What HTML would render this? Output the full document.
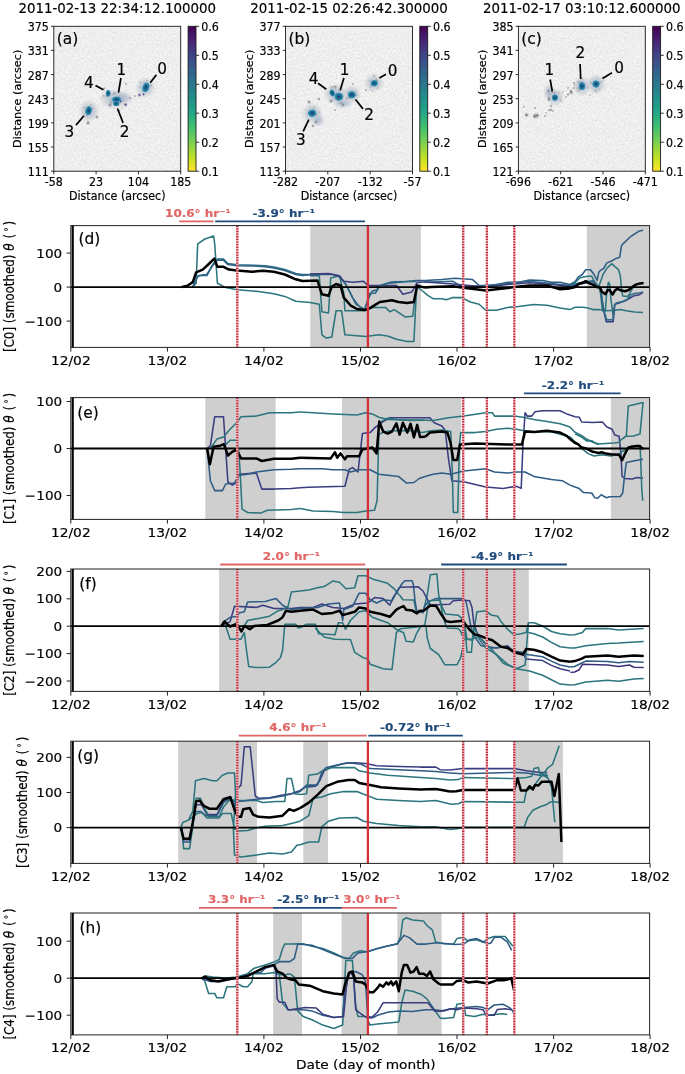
<!DOCTYPE html>
<html><head><meta charset="utf-8"><title>figure</title>
<style>html,body{margin:0;padding:0;background:#fff}svg{display:block}text{font-family:"DejaVu Sans","Liberation Sans",sans-serif;fill:#000;stroke:#000;stroke-width:0.18px}</style></head><body>
<svg width="685" height="1074" viewBox="0 0 685 1074">
<defs><linearGradient id="vir" x1="0" y1="0" x2="0" y2="1">
<stop offset="0.00" stop-color="#440154"/>
<stop offset="0.10" stop-color="#482475"/>
<stop offset="0.20" stop-color="#414487"/>
<stop offset="0.30" stop-color="#355f8d"/>
<stop offset="0.40" stop-color="#2a788e"/>
<stop offset="0.50" stop-color="#21918c"/>
<stop offset="0.60" stop-color="#22a884"/>
<stop offset="0.70" stop-color="#44bf70"/>
<stop offset="0.80" stop-color="#7ad151"/>
<stop offset="0.90" stop-color="#bddf26"/>
<stop offset="1.00" stop-color="#fde725"/>
</linearGradient>
<radialGradient id="halo"><stop offset="0" stop-color="#9fb2cc" stop-opacity="0.85"/><stop offset="0.5" stop-color="#b4bfce" stop-opacity="0.65"/><stop offset="0.8" stop-color="#c8ccd3" stop-opacity="0.35"/><stop offset="1" stop-color="#d4d7db" stop-opacity="0"/></radialGradient>
<radialGradient id="core"><stop offset="0" stop-color="#1b3566"/><stop offset="0.3" stop-color="#1c5d8a"/><stop offset="0.6" stop-color="#1b7f9b"/><stop offset="0.85" stop-color="#3a8fb8" stop-opacity="0.85"/><stop offset="1" stop-color="#7fb0cc" stop-opacity="0"/></radialGradient>
<radialGradient id="gsp"><stop offset="0" stop-color="#55555c" stop-opacity="0.85"/><stop offset="1" stop-color="#a8a8ae" stop-opacity="0"/></radialGradient>
<radialGradient id="psp"><stop offset="0" stop-color="#3b2a78" stop-opacity="0.95"/><stop offset="1" stop-color="#7a70a8" stop-opacity="0"/></radialGradient>
<filter id="nz" color-interpolation-filters="sRGB" x="0" y="0" width="100%" height="100%"><feTurbulence type="fractalNoise" baseFrequency="0.5" numOctaves="2" seed="7" result="t"/><feColorMatrix in="t" type="matrix" values="0.14 0 0 0 0.863  0.14 0 0 0 0.863  0.14 0 0 0 0.863  0 0 0 0 1"/></filter>
</defs>
<rect width="685" height="1074" fill="#fff"/>
<rect x="53.8" y="26.3" width="126.9" height="144.9" fill="#eeeeee" filter="url(#nz)"/>
<ellipse cx="145.5" cy="87.5" rx="10.8" ry="10.8" fill="url(#halo)"/>
<ellipse cx="114" cy="99" rx="15.6" ry="10.8" fill="url(#halo)"/>
<ellipse cx="89" cy="111" rx="10.8" ry="12.0" fill="url(#halo)"/>
<ellipse cx="122" cy="98" rx="12.0" ry="7.2" fill="url(#halo)"/>
<circle cx="140.4" cy="82.4" r="1.6" fill="url(#gsp)" opacity="0.50"/>
<circle cx="151.1" cy="85.2" r="2.0" fill="url(#gsp)" opacity="0.50"/>
<circle cx="147.9" cy="84.9" r="1.2" fill="url(#gsp)" opacity="0.60"/>
<circle cx="145.8" cy="83.1" r="2.0" fill="url(#gsp)" opacity="0.31"/>
<circle cx="142.6" cy="91.4" r="1.3" fill="url(#gsp)" opacity="0.30"/>
<circle cx="139.7" cy="87.1" r="1.4" fill="url(#gsp)" opacity="0.48"/>
<circle cx="149.2" cy="87.0" r="1.4" fill="url(#gsp)" opacity="0.28"/>
<circle cx="143.7" cy="82.9" r="1.6" fill="url(#gsp)" opacity="0.34"/>
<circle cx="147.0" cy="80.7" r="1.6" fill="url(#gsp)" opacity="0.54"/>
<circle cx="117.2" cy="104.2" r="2.3" fill="url(#gsp)" opacity="0.33"/>
<circle cx="118.6" cy="102.0" r="1.9" fill="url(#gsp)" opacity="0.54"/>
<circle cx="121.7" cy="101.2" r="1.6" fill="url(#gsp)" opacity="0.36"/>
<circle cx="117.1" cy="104.4" r="1.2" fill="url(#gsp)" opacity="0.57"/>
<circle cx="118.4" cy="104.9" r="1.9" fill="url(#gsp)" opacity="0.48"/>
<circle cx="111.1" cy="100.4" r="2.3" fill="url(#gsp)" opacity="0.31"/>
<circle cx="118.0" cy="103.8" r="2.0" fill="url(#gsp)" opacity="0.40"/>
<circle cx="114.0" cy="101.7" r="1.2" fill="url(#gsp)" opacity="0.48"/>
<circle cx="117.3" cy="104.8" r="1.3" fill="url(#gsp)" opacity="0.36"/>
<circle cx="118.9" cy="110.6" r="1.9" fill="url(#gsp)" opacity="0.42"/>
<circle cx="117.1" cy="110.7" r="1.8" fill="url(#gsp)" opacity="0.30"/>
<circle cx="119.5" cy="110.6" r="1.5" fill="url(#gsp)" opacity="0.39"/>
<circle cx="122.3" cy="107.8" r="1.3" fill="url(#gsp)" opacity="0.45"/>
<circle cx="115.2" cy="98.0" r="1.5" fill="url(#gsp)" opacity="0.34"/>
<circle cx="114.7" cy="99.6" r="1.9" fill="url(#gsp)" opacity="0.59"/>
<circle cx="121.8" cy="100.6" r="1.8" fill="url(#gsp)" opacity="0.31"/>
<circle cx="119.1" cy="96.6" r="1.5" fill="url(#gsp)" opacity="0.27"/>
<circle cx="111.1" cy="102.6" r="2.2" fill="url(#gsp)" opacity="0.51"/>
<circle cx="103.1" cy="95.7" r="1.7" fill="url(#gsp)" opacity="0.48"/>
<circle cx="104.2" cy="88.5" r="1.3" fill="url(#gsp)" opacity="0.53"/>
<circle cx="112.3" cy="94.7" r="1.8" fill="url(#gsp)" opacity="0.26"/>
<circle cx="104.5" cy="90.5" r="1.5" fill="url(#gsp)" opacity="0.28"/>
<circle cx="103.9" cy="97.3" r="1.1" fill="url(#gsp)" opacity="0.54"/>
<circle cx="113.8" cy="92.7" r="1.8" fill="url(#gsp)" opacity="0.54"/>
<circle cx="104.6" cy="88.1" r="1.7" fill="url(#gsp)" opacity="0.43"/>
<circle cx="105.9" cy="96.0" r="2.1" fill="url(#gsp)" opacity="0.48"/>
<circle cx="115.1" cy="93.5" r="2.4" fill="url(#gsp)" opacity="0.39"/>
<circle cx="92.2" cy="108.7" r="1.9" fill="url(#gsp)" opacity="0.53"/>
<circle cx="84.9" cy="113.2" r="1.2" fill="url(#gsp)" opacity="0.44"/>
<circle cx="86.7" cy="115.7" r="1.9" fill="url(#gsp)" opacity="0.33"/>
<circle cx="85.9" cy="112.5" r="1.9" fill="url(#gsp)" opacity="0.51"/>
<circle cx="87.5" cy="114.6" r="1.9" fill="url(#gsp)" opacity="0.41"/>
<circle cx="91.3" cy="104.5" r="1.6" fill="url(#gsp)" opacity="0.40"/>
<circle cx="83.4" cy="107.8" r="1.7" fill="url(#gsp)" opacity="0.44"/>
<circle cx="84.1" cy="115.4" r="1.7" fill="url(#gsp)" opacity="0.30"/>
<circle cx="85.5" cy="107.3" r="1.5" fill="url(#gsp)" opacity="0.45"/>
<circle cx="125.6" cy="104.8" r="2.4" fill="url(#psp)"/>
<circle cx="139.4" cy="95" r="2.3" fill="url(#psp)"/>
<circle cx="143.5" cy="94.3" r="1.8" fill="url(#psp)"/>
<circle cx="120.5" cy="101.5" r="1.6" fill="url(#psp)"/>
<circle cx="97" cy="117" r="2.2" fill="url(#gsp)"/>
<circle cx="88" cy="123" r="2.5" fill="url(#gsp)"/>
<circle cx="110" cy="105" r="2.5" fill="url(#gsp)"/>
<circle cx="135" cy="96" r="1.5" fill="url(#gsp)"/>
<circle cx="126" cy="84" r="1.5" fill="url(#gsp)"/>
<circle cx="130" cy="98" r="1.5" fill="url(#gsp)"/>
<ellipse cx="145.9" cy="87.4" rx="3.81" ry="5.60" fill="url(#core)" transform="rotate(20 145.9 87.4)"/>
<ellipse cx="116.6" cy="99.5" rx="5.15" ry="3.36" fill="url(#core)" transform="rotate(0 116.6 99.5)"/>
<ellipse cx="116.2" cy="103.6" rx="3.58" ry="2.91" fill="url(#core)" transform="rotate(0 116.2 103.6)"/>
<ellipse cx="108.2" cy="93.3" rx="2.69" ry="3.81" fill="url(#core)" transform="rotate(0 108.2 93.3)"/>
<ellipse cx="88.6" cy="110.7" rx="3.58" ry="5.15" fill="url(#core)" transform="rotate(10 88.6 110.7)"/>
<rect x="53.8" y="26.3" width="126.9" height="144.9" fill="none" stroke="#1a1a1a" stroke-width="0.9"/>
<text transform="translate(117.2 12.6) scale(0.94 1)" font-size="14.26" text-anchor="middle">2011-02-13 22:34:12.100000</text>
<text transform="translate(56.7 43.7) scale(0.967 1)" font-size="16.03">(a)</text>
<line x1="53.8" y1="171.2" x2="53.8" y2="174.39999999999998" stroke="#1a1a1a" stroke-width="0.9"/>
<text transform="translate(53.8 186.0) scale(0.9 1)" font-size="12.29" text-anchor="middle">-58</text>
<line x1="96.1" y1="171.2" x2="96.1" y2="174.39999999999998" stroke="#1a1a1a" stroke-width="0.9"/>
<text transform="translate(96.1 186.0) scale(0.9 1)" font-size="12.29" text-anchor="middle">23</text>
<line x1="138.4" y1="171.2" x2="138.4" y2="174.39999999999998" stroke="#1a1a1a" stroke-width="0.9"/>
<text transform="translate(138.4 186.0) scale(0.9 1)" font-size="12.29" text-anchor="middle">104</text>
<line x1="180.7" y1="171.2" x2="180.7" y2="174.39999999999998" stroke="#1a1a1a" stroke-width="0.9"/>
<text transform="translate(180.7 186.0) scale(0.9 1)" font-size="12.29" text-anchor="middle">185</text>
<line x1="51.0" y1="26.3" x2="53.8" y2="26.3" stroke="#1a1a1a" stroke-width="0.9"/>
<text transform="translate(48.9 31.2) scale(0.9 1)" font-size="12.29" text-anchor="end">375</text>
<line x1="51.0" y1="50.4" x2="53.8" y2="50.4" stroke="#1a1a1a" stroke-width="0.9"/>
<text transform="translate(48.9 55.3) scale(0.9 1)" font-size="12.29" text-anchor="end">331</text>
<line x1="51.0" y1="74.6" x2="53.8" y2="74.6" stroke="#1a1a1a" stroke-width="0.9"/>
<text transform="translate(48.9 79.5) scale(0.9 1)" font-size="12.29" text-anchor="end">287</text>
<line x1="51.0" y1="98.7" x2="53.8" y2="98.7" stroke="#1a1a1a" stroke-width="0.9"/>
<text transform="translate(48.9 103.6) scale(0.9 1)" font-size="12.29" text-anchor="end">243</text>
<line x1="51.0" y1="122.9" x2="53.8" y2="122.9" stroke="#1a1a1a" stroke-width="0.9"/>
<text transform="translate(48.9 127.8) scale(0.9 1)" font-size="12.29" text-anchor="end">199</text>
<line x1="51.0" y1="147.0" x2="53.8" y2="147.0" stroke="#1a1a1a" stroke-width="0.9"/>
<text transform="translate(48.9 151.9) scale(0.9 1)" font-size="12.29" text-anchor="end">155</text>
<line x1="51.0" y1="171.2" x2="53.8" y2="171.2" stroke="#1a1a1a" stroke-width="0.9"/>
<text transform="translate(48.9 176.1) scale(0.9 1)" font-size="12.29" text-anchor="end">111</text>
<text transform="translate(117.2 200) scale(0.94 1)" font-size="11.81" text-anchor="middle">Distance (arcsec)</text>
<text transform="translate(20.9 98.8) rotate(-90)" font-size="11.3" text-anchor="middle">Distance (arcsec)</text>
<rect x="188.1" y="26.3" width="7.9" height="144.9" fill="url(#vir)" stroke="#1a1a1a" stroke-width="0.9"/>
<line x1="196.0" y1="26.3" x2="199.2" y2="26.3" stroke="#1a1a1a" stroke-width="0.9"/>
<text transform="translate(201.3 31.1) scale(0.9 1)" font-size="12.29">0.6</text>
<line x1="196.0" y1="55.3" x2="199.2" y2="55.3" stroke="#1a1a1a" stroke-width="0.9"/>
<text transform="translate(201.3 60.1) scale(0.9 1)" font-size="12.29">0.5</text>
<line x1="196.0" y1="84.3" x2="199.2" y2="84.3" stroke="#1a1a1a" stroke-width="0.9"/>
<text transform="translate(201.3 89.1) scale(0.9 1)" font-size="12.29">0.4</text>
<line x1="196.0" y1="113.2" x2="199.2" y2="113.2" stroke="#1a1a1a" stroke-width="0.9"/>
<text transform="translate(201.3 118.0) scale(0.9 1)" font-size="12.29">0.3</text>
<line x1="196.0" y1="142.2" x2="199.2" y2="142.2" stroke="#1a1a1a" stroke-width="0.9"/>
<text transform="translate(201.3 147.0) scale(0.9 1)" font-size="12.29">0.2</text>
<line x1="196.0" y1="171.2" x2="199.2" y2="171.2" stroke="#1a1a1a" stroke-width="0.9"/>
<text transform="translate(201.3 176.0) scale(0.9 1)" font-size="12.29">0.1</text>
<line x1="156.4" y1="74.9" x2="150.2" y2="82.7" stroke="#000" stroke-width="1.7"/>
<line x1="120.9" y1="78" x2="118.5" y2="92.6" stroke="#000" stroke-width="1.7"/>
<line x1="95.5" y1="85.5" x2="103.5" y2="89.8" stroke="#000" stroke-width="1.7"/>
<line x1="76" y1="125.1" x2="83.9" y2="115.8" stroke="#000" stroke-width="1.7"/>
<line x1="117.5" y1="108.5" x2="123.1" y2="122.9" stroke="#000" stroke-width="1.7"/>
<text x="162" y="74.2" font-size="15.25" text-anchor="middle" fill="#000">0</text>
<text x="121.3" y="75.1" font-size="15.25" text-anchor="middle" fill="#000">1</text>
<text x="88.9" y="87.6" font-size="15.25" text-anchor="middle" fill="#000">4</text>
<text x="69.3" y="137.2" font-size="15.25" text-anchor="middle" fill="#000">3</text>
<text x="124.6" y="137.2" font-size="15.25" text-anchor="middle" fill="#000">2</text>
<rect x="285.5" y="26.3" width="127.0" height="144.9" fill="#eeeeee" filter="url(#nz)"/>
<ellipse cx="374" cy="83" rx="10.8" ry="9.6" fill="url(#halo)"/>
<ellipse cx="352" cy="94" rx="9.6" ry="9.6" fill="url(#halo)"/>
<ellipse cx="336" cy="94" rx="13.2" ry="10.8" fill="url(#halo)"/>
<ellipse cx="312" cy="113" rx="10.8" ry="10.8" fill="url(#halo)"/>
<ellipse cx="318" cy="120" rx="7.2" ry="7.2" fill="url(#halo)"/>
<ellipse cx="343" cy="103" rx="10.8" ry="6.0" fill="url(#halo)"/>
<circle cx="369.9" cy="80.9" r="1.8" fill="url(#gsp)" opacity="0.28"/>
<circle cx="370.0" cy="89.3" r="1.1" fill="url(#gsp)" opacity="0.42"/>
<circle cx="378.0" cy="88.1" r="1.9" fill="url(#gsp)" opacity="0.35"/>
<circle cx="376.8" cy="80.8" r="2.0" fill="url(#gsp)" opacity="0.44"/>
<circle cx="374.3" cy="75.7" r="2.1" fill="url(#gsp)" opacity="0.52"/>
<circle cx="372.4" cy="91.0" r="1.6" fill="url(#gsp)" opacity="0.51"/>
<circle cx="376.7" cy="80.2" r="2.0" fill="url(#gsp)" opacity="0.53"/>
<circle cx="371.1" cy="86.0" r="1.9" fill="url(#gsp)" opacity="0.41"/>
<circle cx="371.0" cy="87.4" r="1.2" fill="url(#gsp)" opacity="0.37"/>
<circle cx="347.6" cy="94.6" r="1.4" fill="url(#gsp)" opacity="0.31"/>
<circle cx="353.2" cy="100.3" r="1.3" fill="url(#gsp)" opacity="0.27"/>
<circle cx="349.9" cy="98.5" r="1.8" fill="url(#gsp)" opacity="0.34"/>
<circle cx="348.5" cy="98.2" r="1.2" fill="url(#gsp)" opacity="0.47"/>
<circle cx="354.1" cy="98.9" r="1.2" fill="url(#gsp)" opacity="0.35"/>
<circle cx="347.0" cy="98.2" r="2.3" fill="url(#gsp)" opacity="0.58"/>
<circle cx="347.8" cy="91.7" r="2.0" fill="url(#gsp)" opacity="0.29"/>
<circle cx="357.6" cy="95.1" r="1.8" fill="url(#gsp)" opacity="0.35"/>
<circle cx="356.2" cy="91.4" r="1.4" fill="url(#gsp)" opacity="0.45"/>
<circle cx="339.8" cy="103.6" r="1.4" fill="url(#gsp)" opacity="0.49"/>
<circle cx="337.0" cy="94.3" r="1.1" fill="url(#gsp)" opacity="0.40"/>
<circle cx="341.0" cy="102.6" r="1.2" fill="url(#gsp)" opacity="0.45"/>
<circle cx="337.4" cy="93.8" r="1.9" fill="url(#gsp)" opacity="0.40"/>
<circle cx="333.7" cy="99.0" r="1.3" fill="url(#gsp)" opacity="0.40"/>
<circle cx="342.2" cy="95.4" r="1.5" fill="url(#gsp)" opacity="0.42"/>
<circle cx="338.0" cy="100.5" r="2.1" fill="url(#gsp)" opacity="0.33"/>
<circle cx="334.4" cy="94.5" r="1.3" fill="url(#gsp)" opacity="0.38"/>
<circle cx="342.1" cy="103.4" r="2.1" fill="url(#gsp)" opacity="0.56"/>
<circle cx="337.7" cy="98.0" r="1.3" fill="url(#gsp)" opacity="0.50"/>
<circle cx="328.8" cy="93.6" r="1.0" fill="url(#gsp)" opacity="0.34"/>
<circle cx="335.4" cy="88.1" r="1.7" fill="url(#gsp)" opacity="0.49"/>
<circle cx="338.7" cy="90.9" r="2.2" fill="url(#gsp)" opacity="0.37"/>
<circle cx="335.0" cy="99.9" r="2.0" fill="url(#gsp)" opacity="0.28"/>
<circle cx="334.4" cy="86.5" r="1.7" fill="url(#gsp)" opacity="0.56"/>
<circle cx="335.7" cy="86.8" r="2.3" fill="url(#gsp)" opacity="0.48"/>
<circle cx="331.9" cy="87.6" r="2.3" fill="url(#gsp)" opacity="0.56"/>
<circle cx="334.5" cy="86.7" r="1.0" fill="url(#gsp)" opacity="0.60"/>
<circle cx="319.6" cy="112.9" r="2.2" fill="url(#gsp)" opacity="0.32"/>
<circle cx="315.4" cy="114.4" r="1.8" fill="url(#gsp)" opacity="0.36"/>
<circle cx="314.8" cy="107.4" r="1.3" fill="url(#gsp)" opacity="0.56"/>
<circle cx="318.9" cy="111.7" r="1.2" fill="url(#gsp)" opacity="0.26"/>
<circle cx="316.9" cy="114.8" r="1.6" fill="url(#gsp)" opacity="0.45"/>
<circle cx="313.3" cy="109.1" r="2.1" fill="url(#gsp)" opacity="0.28"/>
<circle cx="311.2" cy="116.1" r="1.4" fill="url(#gsp)" opacity="0.48"/>
<circle cx="309.1" cy="113.0" r="2.1" fill="url(#gsp)" opacity="0.54"/>
<circle cx="308.5" cy="113.7" r="1.6" fill="url(#gsp)" opacity="0.54"/>
<circle cx="319" cy="99" r="2" fill="url(#gsp)"/>
<circle cx="309" cy="102" r="2.4" fill="url(#gsp)"/>
<circle cx="316" cy="122" r="2.2" fill="url(#gsp)"/>
<circle cx="313" cy="126" r="2" fill="url(#gsp)"/>
<circle cx="343" cy="105" r="2" fill="url(#gsp)"/>
<circle cx="335" cy="110" r="1.5" fill="url(#gsp)"/>
<circle cx="331" cy="101" r="2.5" fill="url(#gsp)"/>
<circle cx="353" cy="84" r="1.5" fill="url(#gsp)"/>
<circle cx="366" cy="90" r="1.5" fill="url(#gsp)"/>
<ellipse cx="374.2" cy="83.3" rx="4.03" ry="3.58" fill="url(#core)" transform="rotate(0 374.2 83.3)"/>
<ellipse cx="351.8" cy="94.8" rx="4.48" ry="4.03" fill="url(#core)" transform="rotate(0 351.8 94.8)"/>
<ellipse cx="338.9" cy="96.7" rx="4.93" ry="4.48" fill="url(#core)" transform="rotate(0 338.9 96.7)"/>
<ellipse cx="332.2" cy="93" rx="2.91" ry="4.03" fill="url(#core)" transform="rotate(-20 332.2 93)"/>
<ellipse cx="312.2" cy="113.2" rx="4.70" ry="4.03" fill="url(#core)" transform="rotate(0 312.2 113.2)"/>
<rect x="285.5" y="26.3" width="127.0" height="144.9" fill="none" stroke="#1a1a1a" stroke-width="0.9"/>
<text transform="translate(349.0 12.6) scale(0.94 1)" font-size="14.26" text-anchor="middle">2011-02-15 02:26:42.300000</text>
<text transform="translate(288.4 43.7) scale(0.967 1)" font-size="16.03">(b)</text>
<line x1="285.5" y1="171.2" x2="285.5" y2="174.39999999999998" stroke="#1a1a1a" stroke-width="0.9"/>
<text transform="translate(285.5 186.0) scale(0.9 1)" font-size="12.29" text-anchor="middle">-282</text>
<line x1="327.8" y1="171.2" x2="327.8" y2="174.39999999999998" stroke="#1a1a1a" stroke-width="0.9"/>
<text transform="translate(327.8 186.0) scale(0.9 1)" font-size="12.29" text-anchor="middle">-207</text>
<line x1="370.2" y1="171.2" x2="370.2" y2="174.39999999999998" stroke="#1a1a1a" stroke-width="0.9"/>
<text transform="translate(370.2 186.0) scale(0.9 1)" font-size="12.29" text-anchor="middle">-132</text>
<line x1="412.5" y1="171.2" x2="412.5" y2="174.39999999999998" stroke="#1a1a1a" stroke-width="0.9"/>
<text transform="translate(412.5 186.0) scale(0.9 1)" font-size="12.29" text-anchor="middle">-57</text>
<line x1="282.7" y1="26.3" x2="285.5" y2="26.3" stroke="#1a1a1a" stroke-width="0.9"/>
<text transform="translate(280.6 31.2) scale(0.9 1)" font-size="12.29" text-anchor="end">377</text>
<line x1="282.7" y1="50.4" x2="285.5" y2="50.4" stroke="#1a1a1a" stroke-width="0.9"/>
<text transform="translate(280.6 55.3) scale(0.9 1)" font-size="12.29" text-anchor="end">333</text>
<line x1="282.7" y1="74.6" x2="285.5" y2="74.6" stroke="#1a1a1a" stroke-width="0.9"/>
<text transform="translate(280.6 79.5) scale(0.9 1)" font-size="12.29" text-anchor="end">289</text>
<line x1="282.7" y1="98.7" x2="285.5" y2="98.7" stroke="#1a1a1a" stroke-width="0.9"/>
<text transform="translate(280.6 103.6) scale(0.9 1)" font-size="12.29" text-anchor="end">245</text>
<line x1="282.7" y1="122.9" x2="285.5" y2="122.9" stroke="#1a1a1a" stroke-width="0.9"/>
<text transform="translate(280.6 127.8) scale(0.9 1)" font-size="12.29" text-anchor="end">201</text>
<line x1="282.7" y1="147.0" x2="285.5" y2="147.0" stroke="#1a1a1a" stroke-width="0.9"/>
<text transform="translate(280.6 151.9) scale(0.9 1)" font-size="12.29" text-anchor="end">157</text>
<line x1="282.7" y1="171.2" x2="285.5" y2="171.2" stroke="#1a1a1a" stroke-width="0.9"/>
<text transform="translate(280.6 176.1) scale(0.9 1)" font-size="12.29" text-anchor="end">113</text>
<text transform="translate(349.0 200) scale(0.94 1)" font-size="11.81" text-anchor="middle">Distance (arcsec)</text>
<text transform="translate(252.6 98.8) rotate(-90)" font-size="11.3" text-anchor="middle">Distance (arcsec)</text>
<rect x="419.8" y="26.3" width="7.9" height="144.9" fill="url(#vir)" stroke="#1a1a1a" stroke-width="0.9"/>
<line x1="427.7" y1="26.3" x2="430.9" y2="26.3" stroke="#1a1a1a" stroke-width="0.9"/>
<text transform="translate(433.0 31.1) scale(0.9 1)" font-size="12.29">0.6</text>
<line x1="427.7" y1="55.3" x2="430.9" y2="55.3" stroke="#1a1a1a" stroke-width="0.9"/>
<text transform="translate(433.0 60.1) scale(0.9 1)" font-size="12.29">0.5</text>
<line x1="427.7" y1="84.3" x2="430.9" y2="84.3" stroke="#1a1a1a" stroke-width="0.9"/>
<text transform="translate(433.0 89.1) scale(0.9 1)" font-size="12.29">0.4</text>
<line x1="427.7" y1="113.2" x2="430.9" y2="113.2" stroke="#1a1a1a" stroke-width="0.9"/>
<text transform="translate(433.0 118.0) scale(0.9 1)" font-size="12.29">0.3</text>
<line x1="427.7" y1="142.2" x2="430.9" y2="142.2" stroke="#1a1a1a" stroke-width="0.9"/>
<text transform="translate(433.0 147.0) scale(0.9 1)" font-size="12.29">0.2</text>
<line x1="427.7" y1="171.2" x2="430.9" y2="171.2" stroke="#1a1a1a" stroke-width="0.9"/>
<text transform="translate(433.0 176.0) scale(0.9 1)" font-size="12.29">0.1</text>
<line x1="386" y1="74.3" x2="379.4" y2="78" stroke="#000" stroke-width="1.7"/>
<line x1="343.9" y1="78" x2="340.2" y2="90.2" stroke="#000" stroke-width="1.7"/>
<line x1="318.1" y1="83.3" x2="326.2" y2="89.2" stroke="#000" stroke-width="1.7"/>
<line x1="355.5" y1="99.5" x2="363" y2="108.9" stroke="#000" stroke-width="1.7"/>
<line x1="308.8" y1="119.7" x2="303.2" y2="131.3" stroke="#000" stroke-width="1.7"/>
<text x="392.5" y="75.5" font-size="15.25" text-anchor="middle" fill="#000">0</text>
<text x="344.5" y="75.1" font-size="15.25" text-anchor="middle" fill="#000">1</text>
<text x="313.7" y="83.5" font-size="15.25" text-anchor="middle" fill="#000">4</text>
<text x="369.1" y="120.3" font-size="15.25" text-anchor="middle" fill="#000">2</text>
<text x="300.9" y="145.2" font-size="15.25" text-anchor="middle" fill="#000">3</text>
<rect x="518.4" y="26.3" width="126.9" height="144.9" fill="#eeeeee" filter="url(#nz)"/>
<ellipse cx="596" cy="84" rx="10.8" ry="10.8" fill="url(#halo)"/>
<ellipse cx="582" cy="86" rx="9.6" ry="10.8" fill="url(#halo)"/>
<ellipse cx="555" cy="97" rx="9.6" ry="9.6" fill="url(#halo)"/>
<ellipse cx="549" cy="92" rx="6.0" ry="8.4" fill="url(#halo)"/>
<circle cx="602.6" cy="81.3" r="1.7" fill="url(#gsp)" opacity="0.34"/>
<circle cx="595.7" cy="90.9" r="2.3" fill="url(#gsp)" opacity="0.50"/>
<circle cx="598.1" cy="77.3" r="1.0" fill="url(#gsp)" opacity="0.41"/>
<circle cx="600.5" cy="82.4" r="1.2" fill="url(#gsp)" opacity="0.32"/>
<circle cx="590.9" cy="82.8" r="2.1" fill="url(#gsp)" opacity="0.47"/>
<circle cx="599.6" cy="83.4" r="1.3" fill="url(#gsp)" opacity="0.42"/>
<circle cx="599.5" cy="89.6" r="2.2" fill="url(#gsp)" opacity="0.29"/>
<circle cx="599.5" cy="82.5" r="1.6" fill="url(#gsp)" opacity="0.44"/>
<circle cx="597.7" cy="87.9" r="1.3" fill="url(#gsp)" opacity="0.55"/>
<circle cx="587.7" cy="87.7" r="2.0" fill="url(#gsp)" opacity="0.34"/>
<circle cx="574.4" cy="85.1" r="1.6" fill="url(#gsp)" opacity="0.49"/>
<circle cx="580.9" cy="81.8" r="2.4" fill="url(#gsp)" opacity="0.39"/>
<circle cx="581.6" cy="78.6" r="1.8" fill="url(#gsp)" opacity="0.46"/>
<circle cx="576.5" cy="91.3" r="1.2" fill="url(#gsp)" opacity="0.39"/>
<circle cx="578.4" cy="82.3" r="2.3" fill="url(#gsp)" opacity="0.56"/>
<circle cx="578.8" cy="90.0" r="2.0" fill="url(#gsp)" opacity="0.60"/>
<circle cx="577.5" cy="88.0" r="1.9" fill="url(#gsp)" opacity="0.45"/>
<circle cx="582.8" cy="79.4" r="1.3" fill="url(#gsp)" opacity="0.34"/>
<circle cx="561.0" cy="101.1" r="2.3" fill="url(#gsp)" opacity="0.29"/>
<circle cx="561.0" cy="100.8" r="1.3" fill="url(#gsp)" opacity="0.27"/>
<circle cx="560.2" cy="99.2" r="1.5" fill="url(#gsp)" opacity="0.39"/>
<circle cx="552.2" cy="92.5" r="1.8" fill="url(#gsp)" opacity="0.44"/>
<circle cx="554.6" cy="92.7" r="1.8" fill="url(#gsp)" opacity="0.56"/>
<circle cx="558.7" cy="92.4" r="2.0" fill="url(#gsp)" opacity="0.32"/>
<circle cx="548.9" cy="98.2" r="2.1" fill="url(#gsp)" opacity="0.59"/>
<circle cx="549.6" cy="94.5" r="1.2" fill="url(#gsp)" opacity="0.38"/>
<circle cx="549.2" cy="96.9" r="1.3" fill="url(#gsp)" opacity="0.49"/>
<circle cx="535.8" cy="115.8" r="3.6" fill="url(#gsp)"/>
<circle cx="534.5" cy="116.3" r="2.4" fill="url(#gsp)"/>
<circle cx="537.5" cy="115.4" r="2.2" fill="url(#gsp)"/>
<circle cx="526.5" cy="115" r="2.8" fill="url(#gsp)"/>
<circle cx="526.5" cy="115" r="1.6" fill="url(#gsp)"/>
<circle cx="571.3" cy="92.6" r="2.5" fill="url(#gsp)"/>
<circle cx="548.9" cy="99.5" r="2.2" fill="url(#gsp)"/>
<circle cx="571" cy="91" r="2.2" fill="url(#gsp)"/>
<circle cx="568" cy="94.5" r="1.8" fill="url(#gsp)"/>
<circle cx="574" cy="88" r="1.6" fill="url(#gsp)"/>
<circle cx="566" cy="97" r="1.4" fill="url(#gsp)"/>
<circle cx="563" cy="92" r="1.2" fill="url(#gsp)"/>
<circle cx="551" cy="106" r="1.8" fill="url(#gsp)"/>
<circle cx="549" cy="110" r="1.6" fill="url(#gsp)"/>
<circle cx="553" cy="111" r="1.3" fill="url(#gsp)"/>
<circle cx="546" cy="113" r="1.2" fill="url(#gsp)"/>
<circle cx="548.5" cy="91" r="2.0" fill="url(#gsp)"/>
<circle cx="535" cy="108" r="1.5" fill="url(#gsp)"/>
<circle cx="551" cy="110" r="2" fill="url(#gsp)"/>
<circle cx="545" cy="116" r="1.5" fill="url(#gsp)"/>
<circle cx="568" cy="88" r="1.5" fill="url(#gsp)"/>
<circle cx="574" cy="83" r="1.5" fill="url(#gsp)"/>
<circle cx="524" cy="107" r="1.3" fill="url(#gsp)"/>
<circle cx="590" cy="95" r="1.2" fill="url(#gsp)"/>
<ellipse cx="596" cy="84" rx="4.03" ry="4.03" fill="url(#core)" transform="rotate(0 596 84)"/>
<ellipse cx="582" cy="86.1" rx="3.81" ry="4.48" fill="url(#core)" transform="rotate(0 582 86.1)"/>
<ellipse cx="554.9" cy="97.6" rx="3.58" ry="3.58" fill="url(#core)" transform="rotate(0 554.9 97.6)"/>
<rect x="518.4" y="26.3" width="126.9" height="144.9" fill="none" stroke="#1a1a1a" stroke-width="0.9"/>
<text transform="translate(581.8 12.6) scale(0.94 1)" font-size="14.26" text-anchor="middle">2011-02-17 03:10:12.600000</text>
<text transform="translate(521.3 43.7) scale(0.967 1)" font-size="16.03">(c)</text>
<line x1="518.4" y1="171.2" x2="518.4" y2="174.39999999999998" stroke="#1a1a1a" stroke-width="0.9"/>
<text transform="translate(518.4 186.0) scale(0.9 1)" font-size="12.29" text-anchor="middle">-696</text>
<line x1="560.7" y1="171.2" x2="560.7" y2="174.39999999999998" stroke="#1a1a1a" stroke-width="0.9"/>
<text transform="translate(560.7 186.0) scale(0.9 1)" font-size="12.29" text-anchor="middle">-621</text>
<line x1="603.0" y1="171.2" x2="603.0" y2="174.39999999999998" stroke="#1a1a1a" stroke-width="0.9"/>
<text transform="translate(603.0 186.0) scale(0.9 1)" font-size="12.29" text-anchor="middle">-546</text>
<line x1="645.3" y1="171.2" x2="645.3" y2="174.39999999999998" stroke="#1a1a1a" stroke-width="0.9"/>
<text transform="translate(645.3 186.0) scale(0.9 1)" font-size="12.29" text-anchor="middle">-471</text>
<line x1="515.6" y1="26.3" x2="518.4" y2="26.3" stroke="#1a1a1a" stroke-width="0.9"/>
<text transform="translate(513.5 31.2) scale(0.9 1)" font-size="12.29" text-anchor="end">385</text>
<line x1="515.6" y1="50.4" x2="518.4" y2="50.4" stroke="#1a1a1a" stroke-width="0.9"/>
<text transform="translate(513.5 55.3) scale(0.9 1)" font-size="12.29" text-anchor="end">341</text>
<line x1="515.6" y1="74.6" x2="518.4" y2="74.6" stroke="#1a1a1a" stroke-width="0.9"/>
<text transform="translate(513.5 79.5) scale(0.9 1)" font-size="12.29" text-anchor="end">297</text>
<line x1="515.6" y1="98.7" x2="518.4" y2="98.7" stroke="#1a1a1a" stroke-width="0.9"/>
<text transform="translate(513.5 103.6) scale(0.9 1)" font-size="12.29" text-anchor="end">253</text>
<line x1="515.6" y1="122.9" x2="518.4" y2="122.9" stroke="#1a1a1a" stroke-width="0.9"/>
<text transform="translate(513.5 127.8) scale(0.9 1)" font-size="12.29" text-anchor="end">209</text>
<line x1="515.6" y1="147.0" x2="518.4" y2="147.0" stroke="#1a1a1a" stroke-width="0.9"/>
<text transform="translate(513.5 151.9) scale(0.9 1)" font-size="12.29" text-anchor="end">165</text>
<line x1="515.6" y1="171.2" x2="518.4" y2="171.2" stroke="#1a1a1a" stroke-width="0.9"/>
<text transform="translate(513.5 176.1) scale(0.9 1)" font-size="12.29" text-anchor="end">121</text>
<text transform="translate(581.8 200) scale(0.94 1)" font-size="11.81" text-anchor="middle">Distance (arcsec)</text>
<text transform="translate(485.5 98.8) rotate(-90)" font-size="11.3" text-anchor="middle">Distance (arcsec)</text>
<rect x="652.7" y="26.3" width="7.9" height="144.9" fill="url(#vir)" stroke="#1a1a1a" stroke-width="0.9"/>
<line x1="660.6" y1="26.3" x2="663.8" y2="26.3" stroke="#1a1a1a" stroke-width="0.9"/>
<text transform="translate(665.9 31.1) scale(0.9 1)" font-size="12.29">0.6</text>
<line x1="660.6" y1="55.3" x2="663.8" y2="55.3" stroke="#1a1a1a" stroke-width="0.9"/>
<text transform="translate(665.9 60.1) scale(0.9 1)" font-size="12.29">0.5</text>
<line x1="660.6" y1="84.3" x2="663.8" y2="84.3" stroke="#1a1a1a" stroke-width="0.9"/>
<text transform="translate(665.9 89.1) scale(0.9 1)" font-size="12.29">0.4</text>
<line x1="660.6" y1="113.2" x2="663.8" y2="113.2" stroke="#1a1a1a" stroke-width="0.9"/>
<text transform="translate(665.9 118.0) scale(0.9 1)" font-size="12.29">0.3</text>
<line x1="660.6" y1="142.2" x2="663.8" y2="142.2" stroke="#1a1a1a" stroke-width="0.9"/>
<text transform="translate(665.9 147.0) scale(0.9 1)" font-size="12.29">0.2</text>
<line x1="660.6" y1="171.2" x2="663.8" y2="171.2" stroke="#1a1a1a" stroke-width="0.9"/>
<text transform="translate(665.9 176.0) scale(0.9 1)" font-size="12.29">0.1</text>
<line x1="611.9" y1="72.8" x2="602.5" y2="78.4" stroke="#000" stroke-width="1.7"/>
<line x1="580.1" y1="64" x2="580.7" y2="79" stroke="#000" stroke-width="1.7"/>
<line x1="550.2" y1="79.5" x2="552.3" y2="91.5" stroke="#000" stroke-width="1.7"/>
<text x="619" y="73.3" font-size="15.25" text-anchor="middle" fill="#000">0</text>
<text x="580.3" y="58.3" font-size="15.25" text-anchor="middle" fill="#000">2</text>
<text x="549.3" y="75.1" font-size="15.25" text-anchor="middle" fill="#000">1</text>
<clipPath id="cp0"><rect x="70.8" y="225.6" width="578.8" height="121.8"/></clipPath>
<rect x="310.3" y="225.6" width="110.6" height="121.8" fill="#cfcfcf"/>
<rect x="586.8" y="225.6" width="62.8" height="121.8" fill="#cfcfcf"/>
<g clip-path="url(#cp0)" fill="none" stroke-linejoin="round" stroke-linecap="butt">
<polyline points="192.8,286.9 196.1,283.2 197.7,243.8 204.9,239.0 213.6,236.1 214.7,243.8 217.4,283.2 225.7,287.6 237.1,289.8 258.5,291.5 273.9,293.7 284.8,296.4 295.8,301.2 309.9,302.4" stroke="#2b757c" stroke-width="1.55"/>
<polyline points="192.8,286.9 198.3,275.5 206.0,275.5 212.6,265.7 217.4,260.2 223.5,260.2 227.9,264.6 237.1,265.7 254.2,266.1 265.1,266.8 273.9,267.9 284.8,270.5 295.8,274.5 302.3,275.5 309.9,274.7" stroke="#2e5c84" stroke-width="1.55"/>
<polyline points="192.8,286.9 197.2,276.6 203.8,274.5 207.1,275.5 212.6,264.6 217.4,259.1 223.5,259.1 227.9,263.5 237.1,264.8 254.2,265.3 265.1,265.7 273.9,267.0 284.8,269.6 295.8,273.6 302.3,274.5 310.0,274.4" stroke="#2d6a86" stroke-width="1.55"/>
<polyline points="309.9,302.4 319.3,304.2 321.9,334.8 326.3,338.1 331.8,337.0 336.1,310.7 341.6,310.7 344.9,334.8 365.7,336.6 378.8,334.8 387.6,335.9 396.4,339.2 407.3,341.4 413.9,341.4 416.6,286.6" stroke="#2b757c" stroke-width="1.55"/>
<polyline points="309.9,275.7 319.3,275.7 321.9,311.8 328.5,312.9 330.7,277.9 339.4,275.7 343.8,293.2 344.9,310.7 364.6,310.7 372.3,307.4 385.4,307.4 389.8,311.8 394.2,309.6 405.1,316.9 412.8,316.2 416.3,286.1" stroke="#2b757c" stroke-width="1.55"/>
<polyline points="310.0,274.4 332.8,274.6 339.4,276.8 346.0,284.5 352.6,297.6 359.1,306.4 364.6,309.6 369.0,297.6 372.3,291.0 376.6,289.9 381.0,285.5 387.6,283.4 416.1,280.5 425.1,280.4" stroke="#2e5c84" stroke-width="1.55"/>
<polyline points="309.9,273.9 328.5,273.5 339.4,275.7 343.8,281.2 352.6,282.3 363.5,281.2 367.9,285.5 396.4,285.5 402.9,294.3 411.7,292.1 415.0,286.6 417.2,282.3 425.1,281.9" stroke="#3a3c80" stroke-width="1.55"/>
<polyline points="343.8,281.2 350.4,293.2 355.8,304.2 364.6,309.6 370.1,293.2 375.5,293.2 379.9,285.5 392.0,281.8 416.1,281.4" stroke="#2d6a86" stroke-width="1.55"/>
<polyline points="416.3,286.1 422.6,291.0" stroke="#2b757c" stroke-width="1.55"/>
<polyline points="422.6,291.0 427.7,295.4 433.1,298.7 441.9,298.7 446.3,299.8 452.8,297.6 461.6,297.6 470.4,302.0 479.1,304.2 485.7,310.3 496.6,310.3 507.6,307.4 518.5,306.4 533.9,304.6 547.0,305.3 560.1,308.1 570.0,309.6" stroke="#2b757c" stroke-width="1.55"/>
<polyline points="425.1,280.4 441.9,279.6 455.0,278.3 472.6,279.6 479.1,285.5 492.3,285.5 507.6,282.3 518.5,282.3 529.5,280.1 542.6,280.5 551.4,282.3 560.1,282.3 570.0,284.5" stroke="#2e5c84" stroke-width="1.55"/>
<polyline points="424.4,282.3 452.8,281.2 459.4,285.5 476.9,286.2 507.6,283.4 529.5,281.2 551.4,283.4 570.0,285.5" stroke="#2d6a86" stroke-width="1.55"/>
<polyline points="425.1,281.9 452.8,284.0 485.7,287.1 507.6,284.5 529.5,282.7 551.4,284.5 570.0,286.2" stroke="#3a3c80" stroke-width="1.55"/>
<polyline points="570.0,309.6 575.0,307.2 582.2,307.2 586.9,307.8 592.9,309.6 598.8,309.6 606.0,310.8 615.5,310.2 620.3,309.6 626.3,310.8 634.6,312.0 643.0,312.6" stroke="#2b757c" stroke-width="1.55"/>
<polyline points="570.0,284.5 575.0,281.6 578.6,276.8 582.2,274.5 585.7,269.7 590.5,269.7 594.1,274.5 597.1,280.4 598.8,272.1 600.6,270.3 603.6,268.5 606.6,263.1 612.0,260.7 616.1,258.4 619.7,257.2 621.5,245.8 622.7,244.1 631.0,236.3 639.4,230.9 643.0,230.3" stroke="#2e5c84" stroke-width="1.55"/>
<polyline points="570.0,285.0 575.0,282.8 579.8,278.0 584.5,276.8 588.1,276.2 591.7,276.2 594.1,281.0 596.5,284.0 598.8,286.4 600.6,281.6 603.0,274.5 607.2,267.9 612.0,263.7 614.3,266.1 618.5,269.7 620.3,275.7 621.5,288.8 622.7,295.9 627.5,296.5 629.8,293.5 632.2,288.8 634.6,286.4" stroke="#2b757c" stroke-width="1.55"/>
<polyline points="598.8,286.4 600.6,293.5 602.4,310.8 605.4,310.8 606.6,293.5 608.4,282.2 609.6,284.0 610.8,298.3 613.2,316.2" stroke="#2b757c" stroke-width="1.55"/>
<polyline points="570.0,286.2 575.0,285.2 586.9,282.8 592.9,281.6 596.5,285.2 600.6,288.8 603.6,310.2 606.2,321.6 613.2,321.6 614.9,304.3 619.1,303.1 625.1,300.7 629.8,298.3 633.4,295.9 639.4,294.7 643.0,292.3" stroke="#3a3c80" stroke-width="1.55"/>
<polyline points="570.0,285.5 575.0,284.0 586.9,281.6 592.9,280.7 596.5,284.6 600.6,288.8 603.0,305.5 604.8,313.2 606.6,319.8 612.9,319.8 614.3,305.5 616.1,303.1 622.7,301.6 627.5,299.3 631.0,294.7 634.6,293.5 639.4,292.9 643.0,292.1" stroke="#2d6a86" stroke-width="1.55"/>
<line x1="70.8" y1="287.1" x2="649.6" y2="287.1" stroke="#000" stroke-width="1.8"/>
<polyline points="181.9,286.9 187.4,285.8 192.8,282.1 196.1,272.3 202.7,269.6 209.3,263.5 214.3,258.7 217.4,266.8 223.5,266.8 229.0,269.6 237.1,270.5 252.0,271.8 262.9,270.7 273.9,271.8 284.8,274.5 295.8,279.3 302.3,281.0 309.9,280.8" stroke="#000" stroke-width="2.5"/>
<polyline points="309.9,280.8 317.5,280.5 319.7,287.7 321.9,294.3 328.5,295.8 331.8,286.6 336.1,284.0 340.5,285.5 343.8,297.6 350.4,305.3 356.9,309.0 364.6,310.1 370.1,308.1 375.5,304.6 379.9,302.0 392.0,300.2 398.5,302.0 407.3,303.1 413.9,302.0 417.2,285.5 422.6,287.1 425.1,287.4" stroke="#000" stroke-width="2.5"/>
<polyline points="425.1,287.4 430.9,287.1 452.8,286.2 463.8,287.7 485.7,290.6 501.0,288.8 514.2,287.1 529.5,285.5 547.0,285.5 560.1,289.3 570.0,288.4" stroke="#000" stroke-width="2.5"/>
<polyline points="570.0,288.4 575.0,287.0 578.6,284.0 582.2,282.8 585.7,281.0 588.1,282.8 592.9,284.6 596.5,287.0 600.0,287.6 601.8,291.7 605.4,294.1 607.8,290.0 609.6,290.0 612.6,294.5 614.9,290.6 617.3,288.8 621.5,290.6 625.1,291.2 628.7,290.0 632.2,287.0 635.8,284.6 640.0,283.4 643.6,283.0" stroke="#000" stroke-width="2.5"/>
</g>
<line x1="237.3" y1="225.6" x2="237.3" y2="347.35" stroke="#f4b4bb" stroke-width="2.3"/>
<line x1="237.3" y1="225.6" x2="237.3" y2="347.35" stroke="#bd2a3a" stroke-width="2.3" stroke-dasharray="1.3 1.33"/>
<line x1="463.2" y1="225.6" x2="463.2" y2="347.35" stroke="#f4b4bb" stroke-width="2.3"/>
<line x1="463.2" y1="225.6" x2="463.2" y2="347.35" stroke="#bd2a3a" stroke-width="2.3" stroke-dasharray="1.3 1.33"/>
<line x1="486.9" y1="225.6" x2="486.9" y2="347.35" stroke="#f4b4bb" stroke-width="2.3"/>
<line x1="486.9" y1="225.6" x2="486.9" y2="347.35" stroke="#bd2a3a" stroke-width="2.3" stroke-dasharray="1.3 1.33"/>
<line x1="514.3" y1="225.6" x2="514.3" y2="347.35" stroke="#f4b4bb" stroke-width="2.3"/>
<line x1="514.3" y1="225.6" x2="514.3" y2="347.35" stroke="#bd2a3a" stroke-width="2.3" stroke-dasharray="1.3 1.33"/>
<line x1="367.9" y1="225.6" x2="367.9" y2="347.35" stroke="#d62f3a" stroke-width="2.3"/>
<line x1="72.7" y1="225.6" x2="72.7" y2="347.35" stroke="#000" stroke-width="2.2"/>
<rect x="70.8" y="225.6" width="578.8" height="121.8" fill="none" stroke="#222" stroke-width="1.0"/>
<line x1="70.8" y1="347.35" x2="70.8" y2="351.6" stroke="#222" stroke-width="1.0"/>
<text transform="translate(70.8 364.6) scale(1.07 1)" font-size="12.90" text-anchor="middle">12/02</text>
<line x1="167.4" y1="347.35" x2="167.4" y2="351.6" stroke="#222" stroke-width="1.0"/>
<text transform="translate(167.4 364.6) scale(1.07 1)" font-size="12.90" text-anchor="middle">13/02</text>
<line x1="263.9" y1="347.35" x2="263.9" y2="351.6" stroke="#222" stroke-width="1.0"/>
<text transform="translate(263.9 364.6) scale(1.07 1)" font-size="12.90" text-anchor="middle">14/02</text>
<line x1="360.5" y1="347.35" x2="360.5" y2="351.6" stroke="#222" stroke-width="1.0"/>
<text transform="translate(360.5 364.6) scale(1.07 1)" font-size="12.90" text-anchor="middle">15/02</text>
<line x1="457.0" y1="347.35" x2="457.0" y2="351.6" stroke="#222" stroke-width="1.0"/>
<text transform="translate(457.0 364.6) scale(1.07 1)" font-size="12.90" text-anchor="middle">16/02</text>
<line x1="553.6" y1="347.35" x2="553.6" y2="351.6" stroke="#222" stroke-width="1.0"/>
<text transform="translate(553.6 364.6) scale(1.07 1)" font-size="12.90" text-anchor="middle">17/02</text>
<line x1="650.1" y1="347.35" x2="650.1" y2="351.6" stroke="#222" stroke-width="1.0"/>
<text transform="translate(650.1 364.6) scale(1.07 1)" font-size="12.90" text-anchor="middle">18/02</text>
<line x1="66.6" y1="253.1" x2="70.8" y2="253.1" stroke="#222" stroke-width="1.0"/>
<text transform="translate(62.2 257.7) scale(1.07 1)" font-size="12.71" text-anchor="end">100</text>
<line x1="66.6" y1="287.1" x2="70.8" y2="287.1" stroke="#222" stroke-width="1.0"/>
<text transform="translate(62.2 291.7) scale(1.07 1)" font-size="12.71" text-anchor="end">0</text>
<line x1="66.6" y1="321.1" x2="70.8" y2="321.1" stroke="#222" stroke-width="1.0"/>
<text transform="translate(62.2 325.7) scale(1.07 1)" font-size="12.71" text-anchor="end">−100</text>
<text transform="translate(78.5 243.5) scale(0.98 1)" font-size="15.71">(d)</text>
<text transform="translate(14.1 286.5) rotate(-90) scale(0.895 1)" font-size="13.3" text-anchor="middle">[C0] (smoothed) <tspan font-style="italic">θ</tspan><tspan dx="1.2"> (</tspan><tspan font-size="9.5" dy="-5" dx="1.8">∘</tspan><tspan dy="5" dx="1.7">)</tspan></text>
<line x1="179.3" y1="221.4" x2="213.6" y2="221.4" stroke="#e06666" stroke-width="1.8"/>
<text transform="translate(197.9 217.4) scale(1.07 1)" font-size="11.21" font-weight="bold" text-anchor="middle" style="fill:#e06666;stroke:#e06666">10.6° hr⁻¹</text>
<line x1="215.2" y1="221.4" x2="365.1" y2="221.4" stroke="#1f4a7c" stroke-width="1.8"/>
<text transform="translate(283.7 217.4) scale(1.07 1)" font-size="11.21" font-weight="bold" text-anchor="middle" style="fill:#1f4a7c;stroke:#1f4a7c">-3.9° hr⁻¹</text>
<clipPath id="cp1"><rect x="70.8" y="397.6" width="578.8" height="121.8"/></clipPath>
<rect x="205.3" y="397.6" width="70.3" height="121.8" fill="#cfcfcf"/>
<rect x="342.0" y="397.6" width="119.2" height="121.8" fill="#cfcfcf"/>
<rect x="610.9" y="397.6" width="38.7" height="121.8" fill="#cfcfcf"/>
<g clip-path="url(#cp1)" fill="none" stroke-linejoin="round" stroke-linecap="butt">
<polyline points="207.1,448.5 210.4,445.7 214.7,416.8 223.5,416.8 227.9,481.8 232.3,485.1 236.6,482.9 238.8,474.2 256.4,473.1 261.8,489.1 273.9,489.1 291.4,488.4 300.1,487.8" stroke="#3a3c80" stroke-width="1.55"/>
<polyline points="210.4,448.5 216.9,439.1 223.5,436.9 230.1,429.3 236.6,422.7 241.0,416.8 256.4,416.1 269.5,412.8 291.4,412.8 300.1,411.9" stroke="#2b757c" stroke-width="1.55"/>
<polyline points="223.5,446.8 230.1,440.2 237.1,440.2 238.4,448.5 239.9,467.6 242.1,509.2 247.6,512.5 260.7,513.1 267.3,510.3 291.4,509.6 300.1,508.6" stroke="#2b757c" stroke-width="1.55"/>
<polyline points="207.1,448.5 210.4,480.7 214.7,490.6 222.4,490.6 225.7,484.0 234.5,482.9 238.8,475.3 247.6,474.2 256.4,472.0 273.9,469.8 291.4,469.3 300.1,468.7" stroke="#2e5c84" stroke-width="1.55"/>
<polyline points="300.1,411.9 313.1,412.8 332.8,413.9 356.9,415.0 365.7,412.8 372.3,413.9 378.8,417.2 387.6,419.4 409.5,419.9 425.1,420.0" stroke="#2b757c" stroke-width="1.55"/>
<polyline points="300.1,487.8 308.8,487.3 344.9,486.2 349.3,469.3 352.6,467.6 358.0,472.0 362.4,433.6 370.1,432.6 375.5,427.1 383.2,421.6 389.8,417.7 425.1,417.7" stroke="#3a3c80" stroke-width="1.55"/>
<polyline points="300.1,468.7 321.9,468.7 332.8,469.8 344.9,469.8 350.4,472.0 359.1,469.8 370.1,469.8 378.8,474.2 398.5,476.4 406.2,482.9 413.9,482.5 419.3,478.5 425.1,476.4" stroke="#2e5c84" stroke-width="1.55"/>
<polyline points="300.1,508.6 313.1,510.9 332.8,511.4 343.8,512.5 356.9,512.5 365.7,510.9 374.5,510.3 377.1,500.4 378.8,434.7 383.2,432.1 392.0,430.8 409.5,430.4 422.6,432.6 425.1,432.1" stroke="#2b757c" stroke-width="1.55"/>
<polyline points="377.7,427.7 381.0,421.6 387.6,418.3 396.4,419.4 409.5,420.5 425.5,420.2" stroke="#2b757c" stroke-width="1.55"/>
<polyline points="425.1,417.7 429.9,417.7 434.2,422.7 441.9,426.0 445.2,430.4 448.5,458.8 451.8,480.7 463.8,481.8 485.7,486.9 503.2,488.4 516.4,486.2 521.2,488.4 522.9,445.7 525.1,412.8 527.3,416.1 531.7,416.1 535.0,411.8 542.6,410.7 560.1,410.7 566.7,413.9 570.0,415.0" stroke="#3a3c80" stroke-width="1.55"/>
<polyline points="425.5,420.2 433.1,420.5 448.5,417.7 463.8,416.1 485.7,412.8 492.3,412.8 494.5,416.1 514.2,416.1 522.9,417.2 533.9,419.4 547.0,421.6 560.1,423.8 570.0,427.1" stroke="#2b757c" stroke-width="1.55"/>
<polyline points="425.1,432.1 430.9,430.8 441.9,429.9 450.7,431.5 452.4,476.4 453.3,512.5 457.7,512.5 459.4,445.7 460.7,432.6 474.7,432.6 485.7,431.5 496.6,429.3 507.6,428.2 516.4,429.3 522.9,430.4 533.9,431.7 551.4,431.7 570.0,436.9" stroke="#2b757c" stroke-width="1.55"/>
<polyline points="425.1,476.4 433.1,474.2 441.9,473.1 450.7,474.2 463.8,470.9 485.7,468.7 494.5,472.0 507.6,473.1 516.4,472.0 525.1,472.0 533.9,476.4 551.4,479.6 562.3,480.7 570.0,485.1" stroke="#2e5c84" stroke-width="1.55"/>
<polyline points="570.0,415.0 575.0,416.7 579.2,417.2 581.6,422.0 592.9,422.4 602.4,422.0 606.6,426.8 612.0,429.2 614.9,435.1 619.1,436.3 620.9,453.6 622.1,476.3 625.1,478.6 632.2,478.9 637.0,477.5 643.0,478.1" stroke="#3a3c80" stroke-width="1.55"/>
<polyline points="570.0,427.1 575.0,432.2 581.0,435.1 586.9,439.3 592.9,442.3 598.8,444.1 606.0,443.5 614.3,442.9 619.1,442.3 620.9,439.9 626.3,436.0 628.3,405.9 643.0,402.6 640.0,433.9 633.4,436.0 626.3,436.3" stroke="#2b757c" stroke-width="1.55"/>
<polyline points="570.0,436.9 575.0,441.7 578.6,444.1 582.2,448.8 588.1,453.6 594.1,456.0 602.4,454.8 610.8,456.0 619.1,454.2 622.7,451.2 627.5,449.1" stroke="#2b757c" stroke-width="1.55"/>
<polyline points="575.0,433.9 581.0,436.7 586.9,441.1 591.7,440.7 596.5,443.8 598.8,444.4" stroke="#2b757c" stroke-width="1.55"/>
<polyline points="639.4,445.9 640.3,450.0 641.8,489.4 642.7,500.7" stroke="#2b757c" stroke-width="1.55"/>
<polyline points="570.0,485.1 575.0,487.0 578.6,488.2 583.3,492.4 591.7,493.0 594.7,497.7 597.7,498.3 601.2,494.7 604.2,496.5 606.6,497.7 609.6,496.8 620.3,496.5 622.7,493.0 624.5,476.3 626.3,462.6 634.6,460.8 643.0,459.3" stroke="#2e5c84" stroke-width="1.55"/>
<line x1="70.8" y1="448.5" x2="649.6" y2="448.5" stroke="#000" stroke-width="1.8"/>
<polyline points="207.1,448.5 209.9,464.3 213.6,446.8 220.2,445.7 223.9,444.2 227.9,455.5 232.3,451.8 236.6,449.6 241.0,458.4 256.4,458.4 261.8,461.0 273.9,458.8 291.4,458.8 300.1,457.7" stroke="#000" stroke-width="2.5"/>
<polyline points="300.1,457.7 330.7,458.4 335.0,452.3 337.2,457.7 340.5,453.4 344.9,459.3 347.1,456.2 359.1,456.2 362.4,449.6 372.3,447.4 376.6,453.4 379.3,421.6 383.2,431.5 387.6,433.6 392.0,431.5 396.4,423.4 399.6,434.7 402.9,422.7 407.3,432.6 410.6,423.8 413.9,437.4 417.2,424.9 420.0,436.9 425.1,436.7" stroke="#000" stroke-width="2.5"/>
<polyline points="425.1,436.7 425.5,436.5 429.9,432.6 441.9,431.5 447.4,432.6 450.7,443.5 453.3,459.9 457.2,459.9 459.9,444.6 474.7,443.5 507.6,444.6 521.8,444.6 525.1,431.5 533.9,432.1 547.0,430.8 560.1,432.6 566.7,435.8 570.0,439.1" stroke="#000" stroke-width="2.5"/>
<polyline points="570.0,439.1 575.0,442.9 578.6,444.7 581.0,447.1 586.9,448.8 592.9,451.8 598.8,453.0 601.8,452.2 606.0,453.6 610.8,454.2 619.1,454.8 622.1,460.2 625.1,453.6 628.1,447.7 632.2,446.5 637.0,445.9 640.0,445.9 641.8,448.2 643.6,448.6" stroke="#000" stroke-width="2.5"/>
</g>
<line x1="237.3" y1="397.6" x2="237.3" y2="519.35" stroke="#f4b4bb" stroke-width="2.3"/>
<line x1="237.3" y1="397.6" x2="237.3" y2="519.35" stroke="#bd2a3a" stroke-width="2.3" stroke-dasharray="1.3 1.33"/>
<line x1="463.2" y1="397.6" x2="463.2" y2="519.35" stroke="#f4b4bb" stroke-width="2.3"/>
<line x1="463.2" y1="397.6" x2="463.2" y2="519.35" stroke="#bd2a3a" stroke-width="2.3" stroke-dasharray="1.3 1.33"/>
<line x1="486.9" y1="397.6" x2="486.9" y2="519.35" stroke="#f4b4bb" stroke-width="2.3"/>
<line x1="486.9" y1="397.6" x2="486.9" y2="519.35" stroke="#bd2a3a" stroke-width="2.3" stroke-dasharray="1.3 1.33"/>
<line x1="514.3" y1="397.6" x2="514.3" y2="519.35" stroke="#f4b4bb" stroke-width="2.3"/>
<line x1="514.3" y1="397.6" x2="514.3" y2="519.35" stroke="#bd2a3a" stroke-width="2.3" stroke-dasharray="1.3 1.33"/>
<line x1="367.9" y1="397.6" x2="367.9" y2="519.35" stroke="#d62f3a" stroke-width="2.3"/>
<line x1="72.7" y1="397.6" x2="72.7" y2="519.35" stroke="#000" stroke-width="2.2"/>
<rect x="70.8" y="397.6" width="578.8" height="121.8" fill="none" stroke="#222" stroke-width="1.0"/>
<line x1="70.8" y1="519.35" x2="70.8" y2="523.6" stroke="#222" stroke-width="1.0"/>
<text transform="translate(70.8 536.6) scale(1.07 1)" font-size="12.90" text-anchor="middle">12/02</text>
<line x1="167.4" y1="519.35" x2="167.4" y2="523.6" stroke="#222" stroke-width="1.0"/>
<text transform="translate(167.4 536.6) scale(1.07 1)" font-size="12.90" text-anchor="middle">13/02</text>
<line x1="263.9" y1="519.35" x2="263.9" y2="523.6" stroke="#222" stroke-width="1.0"/>
<text transform="translate(263.9 536.6) scale(1.07 1)" font-size="12.90" text-anchor="middle">14/02</text>
<line x1="360.5" y1="519.35" x2="360.5" y2="523.6" stroke="#222" stroke-width="1.0"/>
<text transform="translate(360.5 536.6) scale(1.07 1)" font-size="12.90" text-anchor="middle">15/02</text>
<line x1="457.0" y1="519.35" x2="457.0" y2="523.6" stroke="#222" stroke-width="1.0"/>
<text transform="translate(457.0 536.6) scale(1.07 1)" font-size="12.90" text-anchor="middle">16/02</text>
<line x1="553.6" y1="519.35" x2="553.6" y2="523.6" stroke="#222" stroke-width="1.0"/>
<text transform="translate(553.6 536.6) scale(1.07 1)" font-size="12.90" text-anchor="middle">17/02</text>
<line x1="650.1" y1="519.35" x2="650.1" y2="523.6" stroke="#222" stroke-width="1.0"/>
<text transform="translate(650.1 536.6) scale(1.07 1)" font-size="12.90" text-anchor="middle">18/02</text>
<line x1="66.6" y1="401.5" x2="70.8" y2="401.5" stroke="#222" stroke-width="1.0"/>
<text transform="translate(62.2 406.1) scale(1.07 1)" font-size="12.71" text-anchor="end">100</text>
<line x1="66.6" y1="448.5" x2="70.8" y2="448.5" stroke="#222" stroke-width="1.0"/>
<text transform="translate(62.2 453.1) scale(1.07 1)" font-size="12.71" text-anchor="end">0</text>
<line x1="66.6" y1="495.5" x2="70.8" y2="495.5" stroke="#222" stroke-width="1.0"/>
<text transform="translate(62.2 500.1) scale(1.07 1)" font-size="12.71" text-anchor="end">−100</text>
<text transform="translate(77.2 417.7) scale(0.98 1)" font-size="15.71">(e)</text>
<text transform="translate(14.1 458.5) rotate(-90) scale(0.895 1)" font-size="13.3" text-anchor="middle">[C1] (smoothed) <tspan font-style="italic">θ</tspan><tspan dx="1.2"> (</tspan><tspan font-size="9.5" dy="-5" dx="1.8">∘</tspan><tspan dy="5" dx="1.7">)</tspan></text>
<line x1="523.9" y1="393.4" x2="620.7" y2="393.4" stroke="#1f4a7c" stroke-width="1.8"/>
<text transform="translate(573.0 388.7) scale(1.07 1)" font-size="11.21" font-weight="bold" text-anchor="middle" style="fill:#1f4a7c;stroke:#1f4a7c">-2.2° hr⁻¹</text>
<clipPath id="cp2"><rect x="70.8" y="569.0" width="578.8" height="122.4"/></clipPath>
<rect x="219.1" y="569.0" width="309.7" height="122.4" fill="#cfcfcf"/>
<g clip-path="url(#cp2)" fill="none" stroke-linejoin="round" stroke-linecap="butt">
<polyline points="221.3,626.0 230.1,621.6 234.5,606.3 256.4,607.4 262.9,605.2 273.9,608.5 291.4,608.5 300.1,607.4" stroke="#3a3c80" stroke-width="1.55"/>
<polyline points="222.4,622.7 230.1,617.3 237.7,616.2 238.8,612.9 244.3,611.8 247.6,601.9 265.1,601.5 276.1,598.6 282.6,605.2 291.4,609.6 300.1,608.5" stroke="#2e5c84" stroke-width="1.55"/>
<polyline points="225.7,626.0 230.1,639.2 241.0,639.2 244.3,632.6 246.5,650.1 248.7,666.5 256.4,667.6 269.5,667.2 275.0,663.2 280.4,657.8 282.6,650.1 284.8,624.3 295.8,624.3 298.0,627.8 300.1,627.8" stroke="#2b757c" stroke-width="1.55"/>
<polyline points="244.3,626.0 247.6,620.5 258.5,618.4 269.5,616.2 278.2,610.7 282.6,609.6 288.1,606.3 291.4,592.1 300.1,591.0" stroke="#2b757c" stroke-width="1.55"/>
<polyline points="300.1,591.0 308.8,589.9 317.5,587.7 324.1,586.6 332.8,581.1 339.4,582.2 346.0,588.8 354.7,587.7 358.0,575.7 365.7,575.7 372.3,578.9 387.6,583.3 394.2,588.8 398.5,594.3 400.0,595.5" stroke="#2b757c" stroke-width="1.55"/>
<polyline points="300.1,607.4 313.1,607.4 321.9,604.1 332.8,607.4 343.8,608.5 354.7,604.1 367.9,603.0 374.5,597.6 383.2,598.6 389.8,605.2 393.1,597.6 399.6,587.7 400.0,587.2" stroke="#3a3c80" stroke-width="1.55"/>
<polyline points="300.1,608.5 317.5,607.4 328.5,604.1 339.4,603.0 342.7,620.5 343.8,609.6 352.6,606.3 359.1,593.2 365.7,593.2 370.1,599.7 376.6,603.0 383.2,599.7 392.0,600.8 398.5,588.8 400.0,586.8" stroke="#2e5c84" stroke-width="1.55"/>
<polyline points="300.1,627.8 306.6,624.3 315.3,624.3 318.6,633.7 335.0,634.8 338.3,622.7 342.7,622.7 345.5,629.3 350.4,620.5 359.1,611.8 365.7,610.7 372.3,617.3 387.6,622.7 396.4,629.3 400.0,631.0" stroke="#2b757c" stroke-width="1.55"/>
<polyline points="315.3,628.2 324.1,637.0 335.0,639.2 350.4,639.6 354.7,652.3 363.5,657.8 367.9,658.9 370.1,664.3 383.2,668.7 392.0,669.4 396.4,632.6 400.0,628.7" stroke="#2b757c" stroke-width="1.55"/>
<polyline points="400.0,595.5 402.9,599.7 413.8,600.1 416.3,611.6 423.0,612.8 424.8,604.9 427.2,595.3 430.3,574.7 436.9,574.1 438.7,595.3 441.8,606.1 445.4,614.0 458.1,615.2 461.7,618.3 464.9,626.0 467.0,639.2 472.5,640.3 476.9,611.8 480.0,611.5" stroke="#2b757c" stroke-width="1.55"/>
<polyline points="400.0,586.8 402.4,583.2 404.8,580.7 412.1,580.7 413.3,584.4 415.1,601.3 416.9,611.6 423.0,612.2 424.8,606.1 428.1,601.9 435.7,598.6 462.7,598.6 466.0,601.3 468.4,613.4 470.8,626.0 472.5,633.6 480.0,644.4" stroke="#2e5c84" stroke-width="1.55"/>
<polyline points="400.0,587.2 418.2,586.8 423.0,591.0 427.8,600.1 430.3,604.9 449.6,604.3 453.3,600.7 461.7,600.1 469.6,600.7 472.0,607.4 473.8,623.1 476.9,632.5 480.0,637.6" stroke="#3a3c80" stroke-width="1.55"/>
<polyline points="400.0,631.0 403.6,632.8 406.1,641.2 413.3,641.9 416.9,632.8 420.6,626.7 424.8,624.9 427.2,611.0 429.3,600.7 439.9,599.9 442.4,613.4 445.4,624.3 447.2,627.9 458.1,628.5 460.5,631.0 463.8,639.2 470.3,639.2 479.2,637.0 480.0,637.8" stroke="#2b757c" stroke-width="1.55"/>
<polyline points="400.0,628.7 426.0,626.1 427.2,637.6 430.3,648.5 438.7,654.6 444.8,664.8 456.9,664.8 460.5,658.2 462.9,647.3 464.9,626.0 467.0,652.3 471.4,652.3 473.6,626.0 479.2,639.2 480.0,640.4" stroke="#2b757c" stroke-width="1.55"/>
<polyline points="480.0,611.5 485.7,610.7 491.2,615.1 497.7,616.2 501.0,621.6 507.6,629.3 514.2,634.8 520.7,633.7 526.2,632.6 528.4,622.7 533.9,622.7 542.6,626.0 551.4,631.5 560.1,633.7 570.2,635.0" stroke="#2b757c" stroke-width="1.55"/>
<polyline points="480.0,637.6 483.5,641.4 487.9,646.8 496.6,647.9 507.6,645.7 514.2,652.3 522.9,653.4 526.2,658.9 542.6,660.6 551.4,665.4 560.1,668.7 570.0,670.9" stroke="#3a3c80" stroke-width="1.55"/>
<polyline points="480.0,644.4 481.3,645.7 492.3,647.9 507.6,646.8 514.2,651.2 522.9,652.3 527.3,654.5 542.6,656.7 551.4,661.1 560.1,665.0 570.2,666.9" stroke="#2e5c84" stroke-width="1.55"/>
<polyline points="480.0,640.4 485.7,647.9 496.6,654.5 507.6,664.3 516.4,668.7 525.1,665.0 528.4,623.8" stroke="#2b757c" stroke-width="1.55"/>
<polyline points="480.0,637.8 492.3,650.1 503.2,663.2 516.4,668.7 529.5,670.9 542.6,675.3 551.4,679.7 560.1,684.1 570.2,685.1" stroke="#2b757c" stroke-width="1.55"/>
<polyline points="528.4,632.6 533.9,633.7 542.6,637.0 551.4,642.4 560.1,646.8 570.2,648.1" stroke="#2b757c" stroke-width="1.55"/>
<polyline points="570.2,635.0 574.7,634.8 582.4,632.6 585.7,628.6 607.6,628.6 618.5,630.0 643.7,628.6" stroke="#2b757c" stroke-width="1.55"/>
<polyline points="570.2,648.1 574.7,647.9 585.7,645.7 607.6,643.5 618.5,643.1 643.7,641.4" stroke="#2b757c" stroke-width="1.55"/>
<polyline points="570.2,666.9 574.7,666.5 581.3,663.2 585.7,661.1 607.6,661.5 618.5,662.8 629.5,661.5 643.7,662.2" stroke="#2e5c84" stroke-width="1.55"/>
<polyline points="570.4,672.4 574.7,672.0 579.1,669.8 582.4,664.3 607.6,665.0 618.5,666.5 629.5,665.0 633.9,667.2 643.7,667.6" stroke="#432f78" stroke-width="1.55"/>
<polyline points="570.2,685.1 574.7,684.7 585.7,681.9 607.6,680.3 618.5,681.2 633.9,679.0 643.7,678.6" stroke="#2b757c" stroke-width="1.55"/>
<line x1="70.8" y1="626.2" x2="649.6" y2="626.2" stroke="#000" stroke-width="1.8"/>
<polyline points="221.3,626.0 224.6,621.6 230.1,626.5 236.6,623.8 241.5,631.5 244.3,626.0 249.8,629.3 254.2,626.0 267.3,624.9 278.2,620.5 282.6,617.3 285.9,610.7 291.4,611.8 300.1,610.7" stroke="#000" stroke-width="2.5"/>
<polyline points="300.1,610.7 313.1,609.6 321.9,614.0 332.8,612.9 339.4,610.7 342.7,615.1 354.7,611.8 359.1,607.4 365.7,608.5 370.1,611.8 381.0,614.0 389.8,616.8 396.4,609.6 400.0,607.7" stroke="#000" stroke-width="2.5"/>
<polyline points="400.0,607.7 403.6,606.1 406.1,609.8 412.1,610.4 416.9,613.4 419.4,611.0 424.2,610.4 430.3,605.5 436.3,606.1 439.9,612.2 446.0,621.3 450.8,621.9 462.9,620.7 465.4,624.3 470.2,630.4 475.0,634.6 480.0,635.7" stroke="#000" stroke-width="2.5"/>
<polyline points="480.0,635.7 485.7,638.1 492.3,640.3 501.0,646.8 507.6,647.9 514.2,652.3 522.9,654.5 526.2,649.0 533.9,649.7 542.6,652.3 551.4,656.7 560.1,660.6 570.2,661.8" stroke="#000" stroke-width="2.5"/>
<polyline points="570.2,661.8 574.7,661.1 581.3,658.9 585.7,656.7 607.6,655.6 618.5,656.7 633.9,655.6 643.7,656.0" stroke="#000" stroke-width="2.5"/>
</g>
<line x1="237.3" y1="569.0" x2="237.3" y2="691.4" stroke="#f4b4bb" stroke-width="2.3"/>
<line x1="237.3" y1="569.0" x2="237.3" y2="691.4" stroke="#bd2a3a" stroke-width="2.3" stroke-dasharray="1.3 1.33"/>
<line x1="463.2" y1="569.0" x2="463.2" y2="691.4" stroke="#f4b4bb" stroke-width="2.3"/>
<line x1="463.2" y1="569.0" x2="463.2" y2="691.4" stroke="#bd2a3a" stroke-width="2.3" stroke-dasharray="1.3 1.33"/>
<line x1="486.9" y1="569.0" x2="486.9" y2="691.4" stroke="#f4b4bb" stroke-width="2.3"/>
<line x1="486.9" y1="569.0" x2="486.9" y2="691.4" stroke="#bd2a3a" stroke-width="2.3" stroke-dasharray="1.3 1.33"/>
<line x1="514.3" y1="569.0" x2="514.3" y2="691.4" stroke="#f4b4bb" stroke-width="2.3"/>
<line x1="514.3" y1="569.0" x2="514.3" y2="691.4" stroke="#bd2a3a" stroke-width="2.3" stroke-dasharray="1.3 1.33"/>
<line x1="367.9" y1="569.0" x2="367.9" y2="691.4" stroke="#d62f3a" stroke-width="2.3"/>
<line x1="72.7" y1="569.0" x2="72.7" y2="691.4" stroke="#000" stroke-width="2.2"/>
<rect x="70.8" y="569.0" width="578.8" height="122.4" fill="none" stroke="#222" stroke-width="1.0"/>
<line x1="70.8" y1="691.4" x2="70.8" y2="695.6" stroke="#222" stroke-width="1.0"/>
<text transform="translate(70.8 708.6) scale(1.07 1)" font-size="12.90" text-anchor="middle">12/02</text>
<line x1="167.4" y1="691.4" x2="167.4" y2="695.6" stroke="#222" stroke-width="1.0"/>
<text transform="translate(167.4 708.6) scale(1.07 1)" font-size="12.90" text-anchor="middle">13/02</text>
<line x1="263.9" y1="691.4" x2="263.9" y2="695.6" stroke="#222" stroke-width="1.0"/>
<text transform="translate(263.9 708.6) scale(1.07 1)" font-size="12.90" text-anchor="middle">14/02</text>
<line x1="360.5" y1="691.4" x2="360.5" y2="695.6" stroke="#222" stroke-width="1.0"/>
<text transform="translate(360.5 708.6) scale(1.07 1)" font-size="12.90" text-anchor="middle">15/02</text>
<line x1="457.0" y1="691.4" x2="457.0" y2="695.6" stroke="#222" stroke-width="1.0"/>
<text transform="translate(457.0 708.6) scale(1.07 1)" font-size="12.90" text-anchor="middle">16/02</text>
<line x1="553.6" y1="691.4" x2="553.6" y2="695.6" stroke="#222" stroke-width="1.0"/>
<text transform="translate(553.6 708.6) scale(1.07 1)" font-size="12.90" text-anchor="middle">17/02</text>
<line x1="650.1" y1="691.4" x2="650.1" y2="695.6" stroke="#222" stroke-width="1.0"/>
<text transform="translate(650.1 708.6) scale(1.07 1)" font-size="12.90" text-anchor="middle">18/02</text>
<line x1="66.6" y1="571.4" x2="70.8" y2="571.4" stroke="#222" stroke-width="1.0"/>
<text transform="translate(62.2 576.0) scale(1.07 1)" font-size="12.71" text-anchor="end">200</text>
<line x1="66.6" y1="598.8" x2="70.8" y2="598.8" stroke="#222" stroke-width="1.0"/>
<text transform="translate(62.2 603.4) scale(1.07 1)" font-size="12.71" text-anchor="end">100</text>
<line x1="66.6" y1="626.2" x2="70.8" y2="626.2" stroke="#222" stroke-width="1.0"/>
<text transform="translate(62.2 630.8) scale(1.07 1)" font-size="12.71" text-anchor="end">0</text>
<line x1="66.6" y1="653.6" x2="70.8" y2="653.6" stroke="#222" stroke-width="1.0"/>
<text transform="translate(62.2 658.2) scale(1.07 1)" font-size="12.71" text-anchor="end">−100</text>
<line x1="66.6" y1="681.0" x2="70.8" y2="681.0" stroke="#222" stroke-width="1.0"/>
<text transform="translate(62.2 685.6) scale(1.07 1)" font-size="12.71" text-anchor="end">−200</text>
<text transform="translate(79.3 588.7) scale(0.98 1)" font-size="15.71">(f)</text>
<text transform="translate(14.1 630.2) rotate(-90) scale(0.895 1)" font-size="13.3" text-anchor="middle">[C2] (smoothed) <tspan font-style="italic">θ</tspan><tspan dx="1.2"> (</tspan><tspan font-size="9.5" dy="-5" dx="1.8">∘</tspan><tspan dy="5" dx="1.7">)</tspan></text>
<line x1="220.2" y1="564.5" x2="365.2" y2="564.5" stroke="#e06666" stroke-width="1.8"/>
<text transform="translate(291.4 559.9) scale(1.07 1)" font-size="11.21" font-weight="bold" text-anchor="middle" style="fill:#e06666;stroke:#e06666">2.0° hr⁻¹</text>
<line x1="441.2" y1="564.5" x2="566.9" y2="564.5" stroke="#1f4a7c" stroke-width="1.8"/>
<text transform="translate(502.2 559.9) scale(1.07 1)" font-size="11.21" font-weight="bold" text-anchor="middle" style="fill:#1f4a7c;stroke:#1f4a7c">-4.9° hr⁻¹</text>
<clipPath id="cp3"><rect x="70.8" y="741.2" width="578.8" height="122.2"/></clipPath>
<rect x="178.2" y="741.2" width="78.8" height="122.2" fill="#cfcfcf"/>
<rect x="303.3" y="741.2" width="24.7" height="122.2" fill="#cfcfcf"/>
<rect x="514.3" y="741.2" width="48.6" height="122.2" fill="#cfcfcf"/>
<g clip-path="url(#cp3)" fill="none" stroke-linejoin="round" stroke-linecap="butt">
<polyline points="180.8,827.3 183.6,839.8 189.6,839.8 192.8,824.5 196.1,804.8 201.6,804.8 207.1,814.6 216.9,814.6 223.5,801.5 231.2,797.1 234.5,811.4 236.6,789.5 241.0,785.1 244.3,746.8 250.2,746.8 255.3,796.0 258.5,798.2 269.5,797.8 282.6,794.9 291.4,793.8 300.1,790.5" stroke="#3a3c80" stroke-width="1.55"/>
<polyline points="180.8,827.3 183.0,822.3 188.5,820.1 192.8,811.4 195.5,780.7 203.8,778.5 212.6,780.7 216.9,780.7 222.4,775.2 227.9,773.0 234.5,773.0 235.5,793.8 233.4,828.9 234.5,855.1 241.0,856.9 256.4,855.1 269.5,853.0 282.6,854.1 291.4,851.9 296.9,845.3 300.1,844.7" stroke="#2b757c" stroke-width="1.55"/>
<polyline points="181.9,827.3 183.6,848.6 189.6,848.6 192.8,826.7 196.1,798.2 200.5,798.2 203.8,807.0 209.3,816.8 219.1,816.8 223.5,807.0 230.1,799.3 234.5,800.4 256.4,800.4 262.9,802.6 276.1,801.5 284.8,801.5 287.0,778.5 291.4,778.5 294.7,793.8 300.1,794.4" stroke="#2b757c" stroke-width="1.55"/>
<polyline points="180.8,827.3 183.6,842.0 189.6,842.0 192.8,822.3 196.1,811.4 200.5,811.4 206.0,815.7 216.9,815.7 223.5,802.6 230.1,798.2 233.4,801.5 238.8,801.5 256.4,799.3 269.5,798.2 282.6,796.0 295.8,792.7 300.1,791.6" stroke="#2e5c84" stroke-width="1.55"/>
<polyline points="188.5,820.1 197.2,813.5 201.6,812.4 207.1,817.9 219.1,817.9 222.4,813.5 231.2,813.5 234.5,828.9 238.8,831.1 247.6,830.6 256.4,827.8 265.1,826.2 282.6,825.6 291.4,823.4 300.1,821.2" stroke="#2b757c" stroke-width="1.55"/>
<polyline points="300.1,790.5 304.4,787.3 315.3,786.2 319.7,780.7 324.1,770.8 332.8,766.5 343.8,763.6 354.7,762.7 365.7,763.6 376.6,765.8 398.5,766.5 420.4,767.1 435.8,767.1 440.1,769.7 449.9,770.0" stroke="#3a3c80" stroke-width="1.55"/>
<polyline points="300.1,791.6 306.6,785.1 317.5,785.1 321.9,771.9 326.3,767.6 335.0,765.4 348.2,762.7 361.3,764.3 370.1,768.6 398.5,769.7 420.4,770.8 435.8,771.5 449.9,773.1" stroke="#2e5c84" stroke-width="1.55"/>
<polyline points="300.1,794.4 306.6,793.8 308.8,775.2 317.5,774.1 324.1,769.7 332.8,767.6 354.7,767.6 359.1,770.8 370.1,773.0 387.6,775.2 409.5,776.8 435.8,778.5 449.9,779.9" stroke="#2b757c" stroke-width="1.55"/>
<polyline points="300.1,821.2 308.8,815.7 313.1,798.2 321.9,797.1 330.7,793.8 343.8,791.6 356.9,791.6 365.7,794.9 376.6,799.3 398.5,800.4 420.4,801.5 435.8,800.4 449.9,804.0" stroke="#2b757c" stroke-width="1.55"/>
<polyline points="300.1,844.7 308.8,842.0 318.6,842.0 321.9,826.7 328.5,821.2 339.4,817.9 356.9,817.5 363.5,821.2 376.6,823.4 398.5,825.6 420.4,826.7 435.8,826.7 449.9,829.4" stroke="#2b757c" stroke-width="1.55"/>
<polyline points="449.9,770.0 462.8,768.6 484.7,768.6 514.3,768.6 526.4,770.8 539.5,772.4 547.2,772.4" stroke="#3a3c80" stroke-width="1.55"/>
<polyline points="449.9,773.1 462.8,773.7 514.3,772.4 526.4,773.0 539.5,775.2 548.2,775.9" stroke="#2e5c84" stroke-width="1.55"/>
<polyline points="449.9,779.9 458.5,779.6 462.8,777.4 484.7,778.1 514.3,778.5 526.4,777.4 531.8,776.3 534.0,768.6 538.4,767.6 540.6,776.3 547.2,774.1" stroke="#2b757c" stroke-width="1.55"/>
<polyline points="449.9,804.0 451.9,804.3 458.5,803.7 462.8,801.5 514.3,802.2 524.2,802.2 526.4,790.5 532.9,787.3 539.5,778.5 548.2,767.6 552.6,764.3 559.2,745.7" stroke="#2b757c" stroke-width="1.55"/>
<polyline points="449.9,829.4 458.5,828.4 462.8,827.3 524.2,827.3 527.4,817.9 532.9,810.3 539.5,807.0 546.1,804.8 549.3,802.6 552.6,801.5 559.2,802.6" stroke="#2b757c" stroke-width="1.55"/>
<polyline points="539.5,772.4 548.2,778.5 551.5,787.3 554.8,822.3" stroke="#2b757c" stroke-width="1.55"/>
<line x1="70.8" y1="827.6" x2="649.6" y2="827.6" stroke="#000" stroke-width="1.8"/>
<polyline points="180.8,827.3 183.6,838.7 189.6,838.7 192.8,822.3 196.1,801.5 199.4,800.4 203.8,805.9 209.3,808.7 216.9,808.7 223.5,799.3 230.1,797.1 234.5,809.2 237.7,816.8 241.0,816.8 243.2,809.2 249.8,808.1 253.1,814.6 258.5,816.8 269.5,817.5 282.6,815.7 289.2,809.2 293.6,810.9 300.1,808.1" stroke="#000" stroke-width="2.5"/>
<polyline points="300.1,808.1 308.8,802.6 317.5,794.9 326.3,786.2 337.2,781.8 348.2,780.0 354.7,780.0 359.1,782.9 370.1,785.1 381.0,787.3 398.5,788.4 420.4,789.5 435.8,789.0 444.5,790.5 449.9,791.5" stroke="#000" stroke-width="2.5"/>
<polyline points="449.9,791.5 456.3,791.2 462.8,789.9 514.3,789.9 517.6,778.5 520.9,790.5 526.4,790.5 529.6,786.2 532.9,789.5 535.1,785.1 538.4,785.5 541.7,781.8 551.5,781.8 554.4,796.0 558.8,774.1 561.4,842.0" stroke="#000" stroke-width="2.5"/>
</g>
<line x1="237.3" y1="741.2" x2="237.3" y2="863.4" stroke="#f4b4bb" stroke-width="2.3"/>
<line x1="237.3" y1="741.2" x2="237.3" y2="863.4" stroke="#bd2a3a" stroke-width="2.3" stroke-dasharray="1.3 1.33"/>
<line x1="463.2" y1="741.2" x2="463.2" y2="863.4" stroke="#f4b4bb" stroke-width="2.3"/>
<line x1="463.2" y1="741.2" x2="463.2" y2="863.4" stroke="#bd2a3a" stroke-width="2.3" stroke-dasharray="1.3 1.33"/>
<line x1="486.9" y1="741.2" x2="486.9" y2="863.4" stroke="#f4b4bb" stroke-width="2.3"/>
<line x1="486.9" y1="741.2" x2="486.9" y2="863.4" stroke="#bd2a3a" stroke-width="2.3" stroke-dasharray="1.3 1.33"/>
<line x1="514.3" y1="741.2" x2="514.3" y2="863.4" stroke="#f4b4bb" stroke-width="2.3"/>
<line x1="514.3" y1="741.2" x2="514.3" y2="863.4" stroke="#bd2a3a" stroke-width="2.3" stroke-dasharray="1.3 1.33"/>
<line x1="367.9" y1="741.2" x2="367.9" y2="863.4" stroke="#d62f3a" stroke-width="2.3"/>
<line x1="72.7" y1="741.2" x2="72.7" y2="863.4" stroke="#000" stroke-width="2.2"/>
<rect x="70.8" y="741.2" width="578.8" height="122.2" fill="none" stroke="#222" stroke-width="1.0"/>
<line x1="70.8" y1="863.4" x2="70.8" y2="867.6" stroke="#222" stroke-width="1.0"/>
<text transform="translate(70.8 880.6) scale(1.07 1)" font-size="12.90" text-anchor="middle">12/02</text>
<line x1="167.4" y1="863.4" x2="167.4" y2="867.6" stroke="#222" stroke-width="1.0"/>
<text transform="translate(167.4 880.6) scale(1.07 1)" font-size="12.90" text-anchor="middle">13/02</text>
<line x1="263.9" y1="863.4" x2="263.9" y2="867.6" stroke="#222" stroke-width="1.0"/>
<text transform="translate(263.9 880.6) scale(1.07 1)" font-size="12.90" text-anchor="middle">14/02</text>
<line x1="360.5" y1="863.4" x2="360.5" y2="867.6" stroke="#222" stroke-width="1.0"/>
<text transform="translate(360.5 880.6) scale(1.07 1)" font-size="12.90" text-anchor="middle">15/02</text>
<line x1="457.0" y1="863.4" x2="457.0" y2="867.6" stroke="#222" stroke-width="1.0"/>
<text transform="translate(457.0 880.6) scale(1.07 1)" font-size="12.90" text-anchor="middle">16/02</text>
<line x1="553.6" y1="863.4" x2="553.6" y2="867.6" stroke="#222" stroke-width="1.0"/>
<text transform="translate(553.6 880.6) scale(1.07 1)" font-size="12.90" text-anchor="middle">17/02</text>
<line x1="650.1" y1="863.4" x2="650.1" y2="867.6" stroke="#222" stroke-width="1.0"/>
<text transform="translate(650.1 880.6) scale(1.07 1)" font-size="12.90" text-anchor="middle">18/02</text>
<line x1="66.6" y1="757.4" x2="70.8" y2="757.4" stroke="#222" stroke-width="1.0"/>
<text transform="translate(62.2 762.0) scale(1.07 1)" font-size="12.71" text-anchor="end">200</text>
<line x1="66.6" y1="792.5" x2="70.8" y2="792.5" stroke="#222" stroke-width="1.0"/>
<text transform="translate(62.2 797.1) scale(1.07 1)" font-size="12.71" text-anchor="end">100</text>
<line x1="66.6" y1="827.6" x2="70.8" y2="827.6" stroke="#222" stroke-width="1.0"/>
<text transform="translate(62.2 832.2) scale(1.07 1)" font-size="12.71" text-anchor="end">0</text>
<text transform="translate(77.2 760.5) scale(0.98 1)" font-size="15.71">(g)</text>
<text transform="translate(26.6 802.3) rotate(-90) scale(0.895 1)" font-size="13.3" text-anchor="middle">[C3] (smoothed) <tspan font-style="italic">θ</tspan><tspan dx="1.2"> (</tspan><tspan font-size="9.5" dy="-5" dx="1.8">∘</tspan><tspan dy="5" dx="1.7">)</tspan></text>
<line x1="238.8" y1="735.7" x2="366.8" y2="735.7" stroke="#e06666" stroke-width="1.8"/>
<text transform="translate(298.0 731.3) scale(1.07 1)" font-size="11.21" font-weight="bold" text-anchor="middle" style="fill:#e06666;stroke:#e06666">4.6° hr⁻¹</text>
<line x1="368.3" y1="735.7" x2="462.8" y2="735.7" stroke="#1f4a7c" stroke-width="1.8"/>
<text transform="translate(415.4 731.3) scale(1.07 1)" font-size="11.21" font-weight="bold" text-anchor="middle" style="fill:#1f4a7c;stroke:#1f4a7c">-0.72° hr⁻¹</text>
<clipPath id="cp4"><rect x="70.8" y="913.0" width="578.8" height="121.9"/></clipPath>
<rect x="273.2" y="913.0" width="28.8" height="121.9" fill="#cfcfcf"/>
<rect x="341.5" y="913.0" width="26.1" height="121.9" fill="#cfcfcf"/>
<rect x="397.3" y="913.0" width="44.3" height="121.9" fill="#cfcfcf"/>
<g clip-path="url(#cp4)" fill="none" stroke-linejoin="round" stroke-linecap="butt">
<polyline points="202.7,978.5 204.9,981.4 208.6,993.4 214.7,993.4 216.9,997.8 223.5,997.8 226.8,986.8 235.5,986.8 237.1,983.5 243.2,986.8 247.6,986.8 252.0,981.4 253.1,973.7 265.1,973.7 273.9,972.6 279.3,974.8 282.6,1003.2 288.1,1009.8 290.3,1009.8" stroke="#2b757c" stroke-width="1.55"/>
<polyline points="201.6,978.5 206.0,975.9 212.6,977.0 225.7,978.1 236.6,977.0 247.6,973.7 254.2,968.2 258.5,967.1 265.1,964.9 273.9,962.1 279.3,959.5 282.6,948.5 284.8,944.1 290.1,943.9" stroke="#2b757c" stroke-width="1.55"/>
<polyline points="201.6,978.5 210.4,981.4 221.3,981.4 237.1,978.1 247.6,974.8 254.2,972.6 260.7,972.6 265.1,968.2 273.9,964.9 279.3,961.6 290.1,961.6" stroke="#2e5c84" stroke-width="1.55"/>
<polyline points="203.8,978.5 212.6,981.4 225.7,979.6 237.1,978.1 247.6,975.9 256.4,971.5 265.1,967.8 273.9,966.0 276.1,972.6 277.2,998.9 279.3,1002.2 284.8,1002.2 288.1,1009.8 290.1,1009.8" stroke="#3a3c80" stroke-width="1.55"/>
<polyline points="279.3,974.8 285.9,974.6 290.1,973.8" stroke="#2b757c" stroke-width="1.55"/>
<polyline points="290.1,943.9 303.1,943.7 311.9,946.3 322.8,948.5 333.8,952.9 342.6,957.3 349.1,958.4 353.5,952.9 360.1,950.7 366.6,951.8 371.0,950.7 377.6,948.5 386.4,946.3 397.3,944.1 400.6,936.5 402.8,920.0 406.1,917.8 412.6,920.0 423.6,921.1 426.9,925.5 432.3,929.9 435.6,941.9 440.3,943.0" stroke="#2b757c" stroke-width="1.55"/>
<polyline points="290.1,961.6 294.4,958.4 297.7,944.1 311.9,945.2 322.8,949.6 333.8,954.0 344.7,958.4 352.4,958.4 357.9,952.9 366.6,951.8 377.6,948.5 386.4,946.3 397.3,943.7 403.9,935.4 409.3,937.6 417.0,944.1 425.8,944.1 434.5,943.0 440.3,943.0" stroke="#2e5c84" stroke-width="1.55"/>
<polyline points="290.1,973.8 294.4,977.0 297.7,1010.9 303.1,1016.4 311.9,1019.7 322.8,1025.1 333.8,1028.4 342.6,1025.1 345.8,960.5 352.4,960.5 355.7,1005.4 357.9,1016.4 366.6,1016.4 369.9,1025.1 377.6,1024.1 388.5,1023.0 398.8,1021.9 401.7,1003.2 405.0,990.1 412.6,991.2 421.4,994.5 426.9,998.9 434.5,1009.8 440.0,1018.0" stroke="#2b757c" stroke-width="1.55"/>
<polyline points="290.0,1009.8 303.1,1009.8 311.9,1010.9 322.8,1015.3 333.8,1017.5 342.6,1016.4 344.7,994.5 349.1,972.6 355.7,971.5 362.3,974.8 365.5,981.4 367.7,1016.4 373.2,1017.5 377.6,1015.3 388.5,1012.0 399.5,1010.9 412.6,1011.6 425.8,1009.8 434.5,1009.8 440.0,1010.6" stroke="#2e5c84" stroke-width="1.55"/>
<polyline points="290.1,1009.8 305.3,1007.6 316.3,1008.1 322.8,1014.2 333.8,1017.5 343.6,1016.4 346.9,981.4 350.2,971.5 353.5,977.0 355.7,1009.8 364.5,1016.4 371.0,1018.1 377.6,1012.0 383.1,1002.8 428.0,1002.8 434.5,1010.9 440.0,1011.2" stroke="#3a3c80" stroke-width="1.55"/>
<polyline points="440.3,943.0 443.8,943.7 453.6,944.1 456.9,938.6 463.5,937.6 467.9,940.8 476.6,939.7 483.2,942.4 487.6,938.6 494.2,936.5 505.1,936.5 509.5,941.9 512.8,946.3" stroke="#2b757c" stroke-width="1.55"/>
<polyline points="440.3,943.0 454.7,944.6 463.5,944.1 470.1,939.7 476.6,938.6 487.6,943.7 490.9,943.0 494.2,937.6 500.7,937.1 507.3,941.9 511.7,950.3" stroke="#2e5c84" stroke-width="1.55"/>
<polyline points="440.0,1018.0 443.8,1018.6 453.6,1017.5 456.9,1004.3 463.5,1003.2 465.7,1015.3 474.5,1016.4 483.2,1014.2 487.6,1015.3 496.4,1014.2 502.9,1013.8 507.3,1014.6" stroke="#2b757c" stroke-width="1.55"/>
<polyline points="440.0,1010.6 443.8,1010.3 452.6,1008.7 463.5,1007.6 476.6,1006.5 483.2,1007.6 487.6,1009.8 494.2,1005.0 502.9,1004.3 509.5,1007.6 512.8,1010.9 514.3,1015.3" stroke="#2e5c84" stroke-width="1.55"/>
<polyline points="440.0,1011.2 443.8,1010.9 450.4,1008.7 456.9,1009.8 463.5,1008.1 476.6,1008.7 483.2,1009.8 486.5,1015.3 494.2,1015.3 497.4,1009.4 505.1,1008.7 511.7,1009.8" stroke="#3a3c80" stroke-width="1.55"/>
<line x1="70.8" y1="978.2" x2="649.6" y2="978.2" stroke="#000" stroke-width="1.8"/>
<polyline points="201.6,978.5 204.9,976.5 210.4,980.3 219.1,981.4 227.9,979.2 237.1,978.1 247.6,975.9 256.4,971.5 265.1,967.1 273.9,964.9 277.2,971.5 282.6,973.7 287.0,978.1 290.1,979.2" stroke="#000" stroke-width="2.5"/>
<polyline points="290.1,979.2 295.5,980.3 298.8,984.6 309.7,985.7 322.8,991.2 333.8,993.4 342.6,994.5 344.7,985.7 349.1,972.6 352.4,971.5 355.7,981.4 362.3,982.4 365.5,984.6 368.8,992.3 373.2,992.3 377.6,987.9 379.8,984.6 383.1,986.8 386.4,982.4 388.5,984.6 391.2,981.4 392.9,985.3 396.2,981.4 398.8,991.2 401.7,972.6 403.9,964.9 407.2,964.9 410.4,972.6 413.7,971.5 416.6,967.1 419.2,973.7 423.6,973.7 426.9,975.9 430.1,971.5 433.4,979.2 440.0,984.6" stroke="#000" stroke-width="2.5"/>
<polyline points="440.0,984.6 452.6,984.6 456.9,980.9 463.5,980.3 467.9,982.4 476.6,981.4 487.6,983.5 496.4,980.3 504.0,980.3 507.3,979.6 511.2,978.1 514.3,991.2" stroke="#000" stroke-width="2.5"/>
</g>
<line x1="237.3" y1="913.0" x2="237.3" y2="1034.9" stroke="#f4b4bb" stroke-width="2.3"/>
<line x1="237.3" y1="913.0" x2="237.3" y2="1034.9" stroke="#bd2a3a" stroke-width="2.3" stroke-dasharray="1.3 1.33"/>
<line x1="463.2" y1="913.0" x2="463.2" y2="1034.9" stroke="#f4b4bb" stroke-width="2.3"/>
<line x1="463.2" y1="913.0" x2="463.2" y2="1034.9" stroke="#bd2a3a" stroke-width="2.3" stroke-dasharray="1.3 1.33"/>
<line x1="486.9" y1="913.0" x2="486.9" y2="1034.9" stroke="#f4b4bb" stroke-width="2.3"/>
<line x1="486.9" y1="913.0" x2="486.9" y2="1034.9" stroke="#bd2a3a" stroke-width="2.3" stroke-dasharray="1.3 1.33"/>
<line x1="514.3" y1="913.0" x2="514.3" y2="1034.9" stroke="#f4b4bb" stroke-width="2.3"/>
<line x1="514.3" y1="913.0" x2="514.3" y2="1034.9" stroke="#bd2a3a" stroke-width="2.3" stroke-dasharray="1.3 1.33"/>
<line x1="367.9" y1="913.0" x2="367.9" y2="1034.9" stroke="#d62f3a" stroke-width="2.3"/>
<line x1="72.7" y1="913.0" x2="72.7" y2="1034.9" stroke="#000" stroke-width="2.2"/>
<rect x="70.8" y="913.0" width="578.8" height="121.9" fill="none" stroke="#222" stroke-width="1.0"/>
<line x1="70.8" y1="1034.9" x2="70.8" y2="1039.1" stroke="#222" stroke-width="1.0"/>
<text transform="translate(70.8 1052.1) scale(1.07 1)" font-size="12.90" text-anchor="middle">12/02</text>
<line x1="167.4" y1="1034.9" x2="167.4" y2="1039.1" stroke="#222" stroke-width="1.0"/>
<text transform="translate(167.4 1052.1) scale(1.07 1)" font-size="12.90" text-anchor="middle">13/02</text>
<line x1="263.9" y1="1034.9" x2="263.9" y2="1039.1" stroke="#222" stroke-width="1.0"/>
<text transform="translate(263.9 1052.1) scale(1.07 1)" font-size="12.90" text-anchor="middle">14/02</text>
<line x1="360.5" y1="1034.9" x2="360.5" y2="1039.1" stroke="#222" stroke-width="1.0"/>
<text transform="translate(360.5 1052.1) scale(1.07 1)" font-size="12.90" text-anchor="middle">15/02</text>
<line x1="457.0" y1="1034.9" x2="457.0" y2="1039.1" stroke="#222" stroke-width="1.0"/>
<text transform="translate(457.0 1052.1) scale(1.07 1)" font-size="12.90" text-anchor="middle">16/02</text>
<line x1="553.6" y1="1034.9" x2="553.6" y2="1039.1" stroke="#222" stroke-width="1.0"/>
<text transform="translate(553.6 1052.1) scale(1.07 1)" font-size="12.90" text-anchor="middle">17/02</text>
<line x1="650.1" y1="1034.9" x2="650.1" y2="1039.1" stroke="#222" stroke-width="1.0"/>
<text transform="translate(650.1 1052.1) scale(1.07 1)" font-size="12.90" text-anchor="middle">18/02</text>
<line x1="66.6" y1="941.2" x2="70.8" y2="941.2" stroke="#222" stroke-width="1.0"/>
<text transform="translate(62.2 945.8) scale(1.07 1)" font-size="12.71" text-anchor="end">100</text>
<line x1="66.6" y1="978.2" x2="70.8" y2="978.2" stroke="#222" stroke-width="1.0"/>
<text transform="translate(62.2 982.8) scale(1.07 1)" font-size="12.71" text-anchor="end">0</text>
<line x1="66.6" y1="1015.2" x2="70.8" y2="1015.2" stroke="#222" stroke-width="1.0"/>
<text transform="translate(62.2 1019.9) scale(1.07 1)" font-size="12.71" text-anchor="end">−100</text>
<text transform="translate(79.5 933.3) scale(0.98 1)" font-size="15.71">(h)</text>
<text transform="translate(14.1 974.0) rotate(-90) scale(0.895 1)" font-size="13.3" text-anchor="middle">[C4] (smoothed) <tspan font-style="italic">θ</tspan><tspan dx="1.2"> (</tspan><tspan font-size="9.5" dy="-5" dx="1.8">∘</tspan><tspan dy="5" dx="1.7">)</tspan></text>
<line x1="199.0" y1="907.9" x2="272.9" y2="907.9" stroke="#e06666" stroke-width="1.8"/>
<text transform="translate(236.6 903.1) scale(1.07 1)" font-size="11.21" font-weight="bold" text-anchor="middle" style="fill:#e06666;stroke:#e06666">3.3° hr⁻¹</text>
<line x1="272.9" y1="907.9" x2="341.9" y2="907.9" stroke="#1f4a7c" stroke-width="1.8"/>
<text transform="translate(308.3 903.1) scale(1.07 1)" font-size="11.21" font-weight="bold" text-anchor="middle" style="fill:#1f4a7c;stroke:#1f4a7c">-2.5° hr⁻¹</text>
<line x1="341.9" y1="907.9" x2="396.9" y2="907.9" stroke="#e06666" stroke-width="1.8"/>
<text transform="translate(371.9 903.1) scale(1.07 1)" font-size="11.21" font-weight="bold" text-anchor="middle" style="fill:#e06666;stroke:#e06666">3.0° hr⁻¹</text>
<text transform="translate(365.8 1069.4) scale(1.07 1)" font-size="12.85" text-anchor="middle">Date (day of month)</text>
</svg></body></html>
